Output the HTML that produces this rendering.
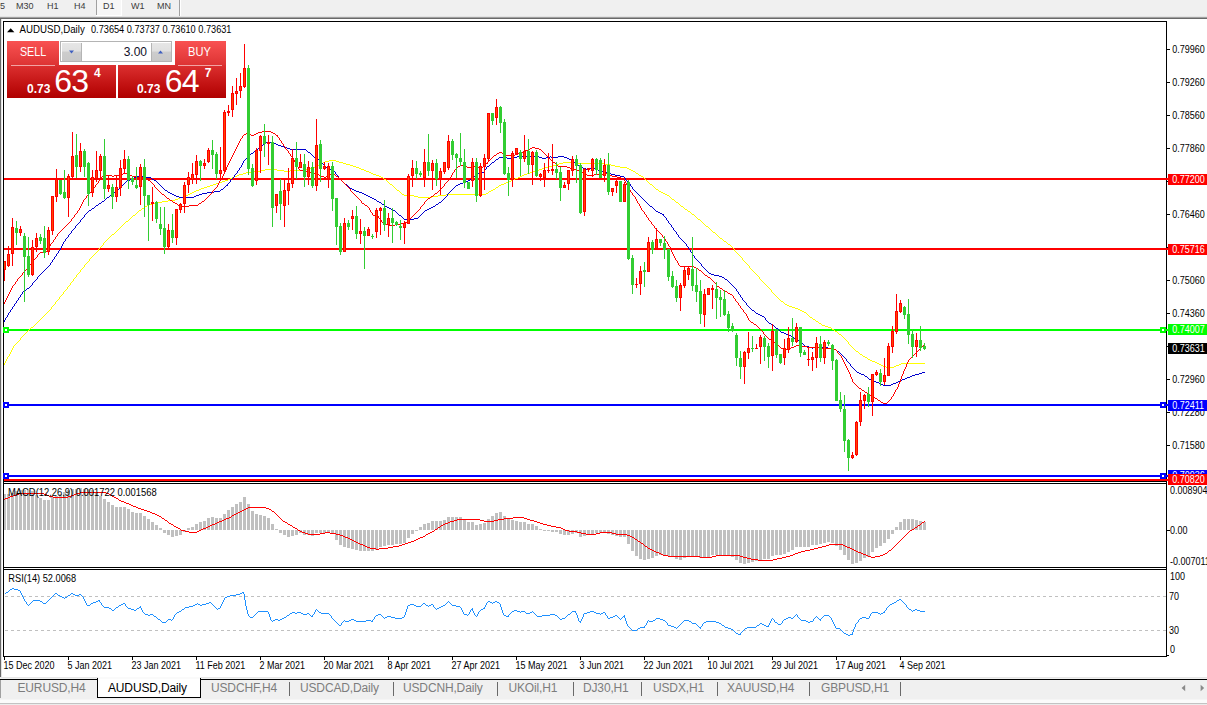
<!DOCTYPE html>
<html lang="en"><head><meta charset="utf-8"><title>AUDUSD,Daily</title>
<style>
html,body{margin:0;padding:0}
body{width:1207px;height:705px;position:relative;overflow:hidden;background:#f0f0f0;font-family:"Liberation Sans",sans-serif}
.abs{position:absolute}
.tb span{position:absolute;top:-0.5px;font-size:9.6px;line-height:12px;color:#3c3c3c;white-space:nowrap;transform:scaleX(0.94);transform-origin:0 0}
.tabs span{position:absolute;top:681.3px;font-size:12px;line-height:15px;color:#7d7d7d;white-space:nowrap;letter-spacing:-0.15px}
.tabs i{position:absolute;top:682px;width:1px;height:14px;background:#6a6a6a}
.btn{position:absolute;color:#fff;text-align:center}
</style></head>
<body>
<!-- toolbar -->
<div class="tb">
<div class="abs" style="left:97px;top:0;width:24px;height:15px;background:#f7f7f7"></div>
<div class="abs" style="left:121px;top:0;width:1px;height:16px;background:#fff"></div>
<div class="abs" style="left:96px;top:15px;width:26px;height:1px;background:#fff"></div>
<div class="abs" style="left:96px;top:0;width:1px;height:15px;background:#a0a0a0"></div>
<div class="abs" style="left:179px;top:0;width:1px;height:17px;background:#a0a0a0"></div>
<div class="abs" style="left:180px;top:0;width:1px;height:17px;background:#fff"></div>
<span style="left:0.3px">5</span><span style="left:16px">M30</span><span style="left:46.6px">H1</span><span style="left:74px">H4</span><span style="left:103px">D1</span><span style="left:130.5px">W1</span><span style="left:157px">MN</span>
</div>
<div class="abs" style="left:0;top:16px;width:1207px;height:1px;background:#e3e3e3"></div>
<div class="abs" style="left:0;top:17px;width:1207px;height:1px;background:#a0a0a0"></div>
<div class="abs" style="left:0;top:18px;width:1207px;height:1px;background:#696969"></div>
<!-- chart window -->
<div class="abs" style="left:0;top:19px;width:1207px;height:658px;background:#fff"></div>
<div class="abs" style="left:0;top:19px;width:1px;height:659px;background:#696969"></div>
<div class="abs" style="left:1px;top:19px;width:1px;height:659px;background:#e3e3e3"></div>
<svg width="1207" height="705" viewBox="0 0 1207 705" style="position:absolute;left:0;top:0"><g shape-rendering="crispEdges"><rect x="3" y="21" width="1164" height="1" fill="#000"/><rect x="3" y="21" width="1" height="636" fill="#000"/><rect x="1166" y="21" width="1" height="636" fill="#000"/><rect x="3" y="656" width="1164" height="1" fill="#000"/><rect x="3" y="481" width="1164" height="1" fill="#000"/><rect x="4" y="482" width="1162" height="1" fill="#fff"/><rect x="3" y="483" width="1164" height="1" fill="#000"/><rect x="3" y="567" width="1164" height="1" fill="#000"/><rect x="4" y="568" width="1162" height="1" fill="#fff"/><rect x="3" y="569" width="1164" height="1" fill="#000"/><rect x="1167" y="49" width="3" height="1" fill="#000"/><rect x="1167" y="82" width="3" height="1" fill="#000"/><rect x="1167" y="115" width="3" height="1" fill="#000"/><rect x="1167" y="148" width="3" height="1" fill="#000"/><rect x="1167" y="181" width="3" height="1" fill="#000"/><rect x="1167" y="214" width="3" height="1" fill="#000"/><rect x="1167" y="247" width="3" height="1" fill="#000"/><rect x="1167" y="280" width="3" height="1" fill="#000"/><rect x="1167" y="313" width="3" height="1" fill="#000"/><rect x="1167" y="346" width="3" height="1" fill="#000"/><rect x="1167" y="379" width="3" height="1" fill="#000"/><rect x="1167" y="412" width="3" height="1" fill="#000"/><rect x="1167" y="445" width="3" height="1" fill="#000"/><rect x="1167" y="530" width="3" height="1" fill="#000"/><rect x="1167" y="655" width="2" height="1" fill="#000"/><rect x="4" y="657" width="1" height="3" fill="#000"/><rect x="68" y="657" width="1" height="3" fill="#000"/><rect x="132" y="657" width="1" height="3" fill="#000"/><rect x="196" y="657" width="1" height="3" fill="#000"/><rect x="260" y="657" width="1" height="3" fill="#000"/><rect x="324" y="657" width="1" height="3" fill="#000"/><rect x="388" y="657" width="1" height="3" fill="#000"/><rect x="452" y="657" width="1" height="3" fill="#000"/><rect x="516" y="657" width="1" height="3" fill="#000"/><rect x="580" y="657" width="1" height="3" fill="#000"/><rect x="644" y="657" width="1" height="3" fill="#000"/><rect x="708" y="657" width="1" height="3" fill="#000"/><rect x="772" y="657" width="1" height="3" fill="#000"/><rect x="836" y="657" width="1" height="3" fill="#000"/><rect x="900" y="657" width="1" height="3" fill="#000"/></g>
<g shape-rendering="crispEdges"><rect x="4" y="178" width="1164" height="2" fill="#ff0000"/><rect x="4" y="248" width="1164" height="2" fill="#ff0000"/><rect x="4" y="329" width="1164" height="2" fill="#00ff00"/><rect x="4" y="404" width="1164" height="2" fill="#0000ff"/><rect x="4" y="475" width="1164" height="2" fill="#0000ff"/><rect x="4" y="479" width="1164" height="2" fill="#ff0000"/><rect x="3" y="327" width="6" height="6" fill="#00ff00"/><rect x="5" y="329" width="2" height="2" fill="#fff"/><rect x="1160" y="327" width="6" height="6" fill="#00ff00"/><rect x="1162" y="329" width="2" height="2" fill="#fff"/><rect x="3" y="402" width="6" height="6" fill="#0000ff"/><rect x="5" y="404" width="2" height="2" fill="#fff"/><rect x="1160" y="402" width="6" height="6" fill="#0000ff"/><rect x="1162" y="404" width="2" height="2" fill="#fff"/><rect x="3" y="473" width="6" height="6" fill="#0000ff"/><rect x="5" y="475" width="2" height="2" fill="#fff"/><rect x="1160" y="473" width="6" height="6" fill="#0000ff"/><rect x="1162" y="475" width="2" height="2" fill="#fff"/></g>
<path fill="#ffff00" shape-rendering="crispEdges" d="M4 363h1v2h-1zM5 361h1v2h-1zM6 359h1v2h-1zM7 357h1v2h-1zM8 356h1v1h-1zM9 354h1v2h-1zM10 352h1v2h-1zM11 350h1v2h-1zM12 348h1v2h-1zM13 346h1v2h-1zM14 345h1v1h-1zM15 344h1v1h-1zM16 343h1v1h-1zM17 342h1v1h-1zM18 341h1v1h-1zM19 340h1v1h-1zM20 338h1v2h-1zM21 337h1v1h-1zM22 336h1v1h-1zM23 335h1v1h-1zM24 334h1v1h-1zM25 333h1v1h-1zM26 332h1v1h-1zM27 331h1v1h-1zM28 330h1v1h-1zM29 329h1v1h-1zM30 328h1v1h-1zM31 327h1v1h-1zM32 327h1v1h-1zM33 326h1v1h-1zM34 325h1v1h-1zM35 324h1v1h-1zM36 323h1v1h-1zM37 322h1v1h-1zM38 321h1v1h-1zM39 320h1v1h-1zM40 319h1v1h-1zM41 318h1v1h-1zM42 317h1v1h-1zM43 316h1v1h-1zM44 315h1v1h-1zM45 314h1v1h-1zM46 313h1v1h-1zM47 312h1v1h-1zM48 311h1v1h-1zM49 310h1v1h-1zM50 309h1v1h-1zM51 307h1v2h-1zM52 306h1v1h-1zM53 305h1v1h-1zM54 304h1v1h-1zM55 302h1v2h-1zM56 301h1v1h-1zM57 300h1v1h-1zM58 299h1v1h-1zM59 297h1v2h-1zM60 296h1v1h-1zM61 295h1v1h-1zM62 294h1v1h-1zM63 292h1v2h-1zM64 291h1v1h-1zM65 290h1v1h-1zM66 289h1v1h-1zM67 287h1v2h-1zM68 286h1v1h-1zM69 285h1v1h-1zM70 283h1v2h-1zM71 282h1v1h-1zM72 281h1v1h-1zM73 279h1v2h-1zM74 278h1v1h-1zM75 277h1v1h-1zM76 275h1v2h-1zM77 274h1v1h-1zM78 273h1v1h-1zM79 272h1v1h-1zM80 270h1v2h-1zM81 269h1v1h-1zM82 268h1v1h-1zM83 267h1v1h-1zM84 265h1v2h-1zM85 264h1v1h-1zM86 263h1v1h-1zM87 262h1v1h-1zM88 261h1v1h-1zM89 259h1v2h-1zM90 258h1v1h-1zM91 257h1v1h-1zM92 256h1v1h-1zM93 255h1v1h-1zM94 254h1v1h-1zM95 253h1v1h-1zM96 252h1v1h-1zM97 251h1v1h-1zM98 249h1v2h-1zM99 248h1v1h-1zM100 247h1v1h-1zM101 246h1v1h-1zM102 245h1v1h-1zM103 243h1v2h-1zM104 242h1v1h-1zM105 241h1v1h-1zM106 240h1v1h-1zM107 239h1v1h-1zM108 238h1v1h-1zM109 237h1v1h-1zM110 236h1v1h-1zM111 235h1v1h-1zM112 234h1v1h-1zM113 234h1v1h-1zM114 233h1v1h-1zM115 232h1v1h-1zM116 231h1v1h-1zM117 230h1v1h-1zM118 229h1v1h-1zM119 228h1v1h-1zM120 227h1v1h-1zM121 226h1v1h-1zM122 225h1v1h-1zM123 224h1v1h-1zM124 223h1v1h-1zM125 222h1v1h-1zM126 221h1v1h-1zM127 221h1v1h-1zM128 220h1v1h-1zM129 219h1v1h-1zM130 218h1v1h-1zM131 217h1v1h-1zM132 216h1v1h-1zM133 215h1v1h-1zM134 215h1v1h-1zM135 214h1v1h-1zM136 213h1v1h-1zM137 212h1v1h-1zM138 211h1v1h-1zM139 210h1v1h-1zM140 210h1v1h-1zM141 209h1v1h-1zM142 208h1v1h-1zM143 208h1v1h-1zM144 207h1v1h-1zM145 206h1v1h-1zM146 206h1v1h-1zM147 205h1v1h-1zM148 205h1v1h-1zM149 204h1v1h-1zM150 204h1v1h-1zM151 204h1v1h-1zM152 203h1v1h-1zM153 203h1v1h-1zM154 203h1v1h-1zM155 203h1v1h-1zM156 203h1v1h-1zM157 202h1v1h-1zM158 202h1v1h-1zM159 202h1v1h-1zM160 202h1v1h-1zM161 202h1v1h-1zM162 201h1v1h-1zM163 201h1v1h-1zM164 201h1v1h-1zM165 201h1v1h-1zM166 201h1v1h-1zM167 201h1v1h-1zM168 200h1v1h-1zM169 200h1v1h-1zM170 200h1v1h-1zM171 200h1v1h-1zM172 200h1v1h-1zM173 200h1v1h-1zM174 200h1v1h-1zM175 199h1v1h-1zM176 199h1v1h-1zM177 199h1v1h-1zM178 198h1v1h-1zM179 198h1v1h-1zM180 197h1v1h-1zM181 197h1v1h-1zM182 197h1v1h-1zM183 196h1v1h-1zM184 196h1v1h-1zM185 195h1v1h-1zM186 195h1v1h-1zM187 195h1v1h-1zM188 194h1v1h-1zM189 194h1v1h-1zM190 193h1v1h-1zM191 193h1v1h-1zM192 192h1v1h-1zM193 192h1v1h-1zM194 191h1v1h-1zM195 191h1v1h-1zM196 190h1v1h-1zM197 190h1v1h-1zM198 190h1v1h-1zM199 189h1v1h-1zM200 189h1v1h-1zM201 188h1v1h-1zM202 188h1v1h-1zM203 188h1v1h-1zM204 187h1v1h-1zM205 187h1v1h-1zM206 187h1v1h-1zM207 186h1v1h-1zM208 186h1v1h-1zM209 186h1v1h-1zM210 185h1v1h-1zM211 185h1v1h-1zM212 185h1v1h-1zM213 184h1v1h-1zM214 184h1v1h-1zM215 184h1v1h-1zM216 183h1v1h-1zM217 183h1v1h-1zM218 183h1v1h-1zM219 182h1v1h-1zM220 182h1v1h-1zM221 182h1v1h-1zM222 181h1v1h-1zM223 181h1v1h-1zM224 181h1v1h-1zM225 180h1v1h-1zM226 180h1v1h-1zM227 180h1v1h-1zM228 179h1v1h-1zM229 179h1v1h-1zM230 178h1v1h-1zM231 178h1v1h-1zM232 177h1v1h-1zM233 177h1v1h-1zM234 176h1v1h-1zM235 176h1v1h-1zM236 176h1v1h-1zM237 175h1v1h-1zM238 175h1v1h-1zM239 174h1v1h-1zM240 174h1v1h-1zM241 174h1v1h-1zM242 174h1v1h-1zM243 173h1v1h-1zM244 173h1v1h-1zM245 173h1v1h-1zM246 172h1v1h-1zM247 172h1v1h-1zM248 172h1v1h-1zM249 172h1v1h-1zM250 172h1v1h-1zM251 172h1v1h-1zM252 172h1v1h-1zM253 171h1v1h-1zM254 171h1v1h-1zM255 171h1v1h-1zM256 171h1v1h-1zM257 171h1v1h-1zM258 171h1v1h-1zM259 171h1v1h-1zM260 170h1v1h-1zM261 170h1v1h-1zM262 170h1v1h-1zM263 170h1v1h-1zM264 170h1v1h-1zM265 169h1v1h-1zM266 169h1v1h-1zM267 169h1v1h-1zM268 169h1v1h-1zM269 169h1v1h-1zM270 169h1v1h-1zM271 169h1v1h-1zM272 169h1v1h-1zM273 169h1v1h-1zM274 169h1v1h-1zM275 169h1v1h-1zM276 169h1v1h-1zM277 170h1v1h-1zM278 170h1v1h-1zM279 170h1v1h-1zM280 170h1v1h-1zM281 170h1v1h-1zM282 170h1v1h-1zM283 170h1v1h-1zM284 171h1v1h-1zM285 171h1v1h-1zM286 171h1v1h-1zM287 171h1v1h-1zM288 171h1v1h-1zM289 171h1v1h-1zM290 170h1v1h-1zM291 170h1v1h-1zM292 170h1v1h-1zM293 170h1v1h-1zM294 170h1v1h-1zM295 170h1v1h-1zM296 170h1v1h-1zM297 170h1v1h-1zM298 170h1v1h-1zM299 170h1v1h-1zM300 170h1v1h-1zM301 170h1v1h-1zM302 170h1v1h-1zM303 169h1v1h-1zM304 169h1v1h-1zM305 169h1v1h-1zM306 169h1v1h-1zM307 169h1v1h-1zM308 168h1v1h-1zM309 168h1v1h-1zM310 168h1v1h-1zM311 168h1v1h-1zM312 168h1v1h-1zM313 167h1v1h-1zM314 167h1v1h-1zM315 166h1v1h-1zM316 166h1v1h-1zM317 165h1v1h-1zM318 165h1v1h-1zM319 164h1v1h-1zM320 164h1v1h-1zM321 163h1v1h-1zM322 163h1v1h-1zM323 162h1v1h-1zM324 162h1v1h-1zM325 161h1v1h-1zM326 161h1v1h-1zM327 161h1v1h-1zM328 161h1v1h-1zM329 160h1v1h-1zM330 160h1v1h-1zM331 160h1v1h-1zM332 160h1v1h-1zM333 160h1v1h-1zM334 160h1v1h-1zM335 160h1v1h-1zM336 161h1v1h-1zM337 161h1v1h-1zM338 161h1v1h-1zM339 162h1v1h-1zM340 162h1v1h-1zM341 162h1v1h-1zM342 162h1v1h-1zM343 163h1v1h-1zM344 163h1v1h-1zM345 163h1v1h-1zM346 164h1v1h-1zM347 164h1v1h-1zM348 164h1v1h-1zM349 164h1v1h-1zM350 165h1v1h-1zM351 165h1v1h-1zM352 165h1v1h-1zM353 166h1v1h-1zM354 166h1v1h-1zM355 166h1v1h-1zM356 167h1v1h-1zM357 167h1v1h-1zM358 167h1v1h-1zM359 168h1v1h-1zM360 168h1v1h-1zM361 169h1v1h-1zM362 169h1v1h-1zM363 169h1v1h-1zM364 170h1v1h-1zM365 170h1v1h-1zM366 171h1v1h-1zM367 171h1v1h-1zM368 171h1v1h-1zM369 172h1v1h-1zM370 172h1v1h-1zM371 173h1v1h-1zM372 173h1v1h-1zM373 174h1v1h-1zM374 174h1v1h-1zM375 174h1v1h-1zM376 175h1v1h-1zM377 175h1v1h-1zM378 175h1v1h-1zM379 176h1v1h-1zM380 176h1v1h-1zM381 177h1v1h-1zM382 177h1v1h-1zM383 178h1v1h-1zM384 179h1v1h-1zM385 179h1v1h-1zM386 180h1v1h-1zM387 181h1v1h-1zM388 182h1v1h-1zM389 183h1v1h-1zM390 184h1v1h-1zM391 184h1v1h-1zM392 185h1v1h-1zM393 186h1v1h-1zM394 187h1v1h-1zM395 188h1v1h-1zM396 189h1v1h-1zM397 190h1v1h-1zM398 190h1v1h-1zM399 191h1v1h-1zM400 192h1v1h-1zM401 193h1v1h-1zM402 194h1v1h-1zM403 194h1v1h-1zM404 195h1v1h-1zM405 195h1v1h-1zM406 195h1v1h-1zM407 195h1v1h-1zM408 195h1v1h-1zM409 195h1v1h-1zM410 195h1v1h-1zM411 195h1v1h-1zM412 195h1v1h-1zM413 195h1v1h-1zM414 196h1v1h-1zM415 196h1v1h-1zM416 196h1v1h-1zM417 196h1v1h-1zM418 197h1v1h-1zM419 197h1v1h-1zM420 197h1v1h-1zM421 197h1v1h-1zM422 197h1v1h-1zM423 197h1v1h-1zM424 197h1v1h-1zM425 197h1v1h-1zM426 197h1v1h-1zM427 197h1v1h-1zM428 197h1v1h-1zM429 197h1v1h-1zM430 197h1v1h-1zM431 197h1v1h-1zM432 196h1v1h-1zM433 196h1v1h-1zM434 196h1v1h-1zM435 196h1v1h-1zM436 196h1v1h-1zM437 196h1v1h-1zM438 195h1v1h-1zM439 195h1v1h-1zM440 195h1v1h-1zM441 195h1v1h-1zM442 195h1v1h-1zM443 195h1v1h-1zM444 195h1v1h-1zM445 195h1v1h-1zM446 194h1v1h-1zM447 194h1v1h-1zM448 194h1v1h-1zM449 194h1v1h-1zM450 194h1v1h-1zM451 194h1v1h-1zM452 194h1v1h-1zM453 194h1v1h-1zM454 194h1v1h-1zM455 194h1v1h-1zM456 194h1v1h-1zM457 194h1v1h-1zM458 194h1v1h-1zM459 194h1v1h-1zM460 194h1v1h-1zM461 194h1v1h-1zM462 194h1v1h-1zM463 194h1v1h-1zM464 194h1v1h-1zM465 194h1v1h-1zM466 194h1v1h-1zM467 194h1v1h-1zM468 194h1v1h-1zM469 194h1v1h-1zM470 194h1v1h-1zM471 194h1v1h-1zM472 194h1v1h-1zM473 194h1v1h-1zM474 194h1v1h-1zM475 194h1v1h-1zM476 194h1v1h-1zM477 194h1v1h-1zM478 194h1v1h-1zM479 194h1v1h-1zM480 194h1v1h-1zM481 194h1v1h-1zM482 194h1v1h-1zM483 194h1v1h-1zM484 194h1v1h-1zM485 194h1v1h-1zM486 193h1v1h-1zM487 193h1v1h-1zM488 192h1v1h-1zM489 191h1v1h-1zM490 191h1v1h-1zM491 190h1v1h-1zM492 190h1v1h-1zM493 189h1v1h-1zM494 189h1v1h-1zM495 188h1v1h-1zM496 187h1v1h-1zM497 187h1v1h-1zM498 186h1v1h-1zM499 185h1v1h-1zM500 185h1v1h-1zM501 184h1v1h-1zM502 184h1v1h-1zM503 184h1v1h-1zM504 183h1v1h-1zM505 183h1v1h-1zM506 182h1v1h-1zM507 182h1v1h-1zM508 181h1v1h-1zM509 181h1v1h-1zM510 181h1v1h-1zM511 180h1v1h-1zM512 180h1v1h-1zM513 179h1v1h-1zM514 179h1v1h-1zM515 178h1v1h-1zM516 178h1v1h-1zM517 178h1v1h-1zM518 177h1v1h-1zM519 177h1v1h-1zM520 176h1v1h-1zM521 176h1v1h-1zM522 175h1v1h-1zM523 175h1v1h-1zM524 174h1v1h-1zM525 174h1v1h-1zM526 174h1v1h-1zM527 173h1v1h-1zM528 173h1v1h-1zM529 173h1v1h-1zM530 172h1v1h-1zM531 172h1v1h-1zM532 172h1v1h-1zM533 171h1v1h-1zM534 171h1v1h-1zM535 171h1v1h-1zM536 170h1v1h-1zM537 170h1v1h-1zM538 170h1v1h-1zM539 169h1v1h-1zM540 169h1v1h-1zM541 169h1v1h-1zM542 168h1v1h-1zM543 168h1v1h-1zM544 168h1v1h-1zM545 167h1v1h-1zM546 167h1v1h-1zM547 167h1v1h-1zM548 167h1v1h-1zM549 166h1v1h-1zM550 166h1v1h-1zM551 166h1v1h-1zM552 165h1v1h-1zM553 165h1v1h-1zM554 165h1v1h-1zM555 165h1v1h-1zM556 164h1v1h-1zM557 164h1v1h-1zM558 164h1v1h-1zM559 163h1v1h-1zM560 163h1v1h-1zM561 163h1v1h-1zM562 163h1v1h-1zM563 162h1v1h-1zM564 162h1v1h-1zM565 162h1v1h-1zM566 162h1v1h-1zM567 162h1v1h-1zM568 162h1v1h-1zM569 162h1v1h-1zM570 162h1v1h-1zM571 162h1v1h-1zM572 162h1v1h-1zM573 162h1v1h-1zM574 162h1v1h-1zM575 162h1v1h-1zM576 163h1v1h-1zM577 163h1v1h-1zM578 163h1v1h-1zM579 163h1v1h-1zM580 163h1v1h-1zM581 163h1v1h-1zM582 163h1v1h-1zM583 163h1v1h-1zM584 163h1v1h-1zM585 163h1v1h-1zM586 163h1v1h-1zM587 163h1v1h-1zM588 163h1v1h-1zM589 163h1v1h-1zM590 163h1v1h-1zM591 163h1v1h-1zM592 163h1v1h-1zM593 163h1v1h-1zM594 163h1v1h-1zM595 163h1v1h-1zM596 163h1v1h-1zM597 163h1v1h-1zM598 163h1v1h-1zM599 163h1v1h-1zM600 163h1v1h-1zM601 163h1v1h-1zM602 163h1v1h-1zM603 163h1v1h-1zM604 163h1v1h-1zM605 164h1v1h-1zM606 164h1v1h-1zM607 164h1v1h-1zM608 164h1v1h-1zM609 164h1v1h-1zM610 164h1v1h-1zM611 165h1v1h-1zM612 165h1v1h-1zM613 165h1v1h-1zM614 165h1v1h-1zM615 166h1v1h-1zM616 166h1v1h-1zM617 166h1v1h-1zM618 166h1v1h-1zM619 166h1v1h-1zM620 167h1v1h-1zM621 167h1v1h-1zM622 167h1v1h-1zM623 167h1v1h-1zM624 167h1v1h-1zM625 167h1v1h-1zM626 167h1v1h-1zM627 168h1v1h-1zM628 168h1v1h-1zM629 169h1v1h-1zM630 169h1v1h-1zM631 170h1v1h-1zM632 170h1v1h-1zM633 171h1v1h-1zM634 171h1v1h-1zM635 172h1v1h-1zM636 173h1v1h-1zM637 173h1v1h-1zM638 174h1v1h-1zM639 175h1v1h-1zM640 175h1v1h-1zM641 176h1v1h-1zM642 176h1v1h-1zM643 177h1v1h-1zM644 178h1v1h-1zM645 179h1v1h-1zM646 180h1v1h-1zM647 181h1v1h-1zM648 182h1v1h-1zM649 183h1v1h-1zM650 184h1v1h-1zM651 184h1v1h-1zM652 185h1v1h-1zM653 186h1v1h-1zM654 187h1v1h-1zM655 188h1v1h-1zM656 189h1v1h-1zM657 189h1v1h-1zM658 190h1v1h-1zM659 191h1v1h-1zM660 191h1v1h-1zM661 192h1v1h-1zM662 192h1v1h-1zM663 193h1v1h-1zM664 193h1v1h-1zM665 194h1v1h-1zM666 194h1v1h-1zM667 195h1v1h-1zM668 195h1v1h-1zM669 196h1v1h-1zM670 197h1v1h-1zM671 198h1v1h-1zM672 199h1v1h-1zM673 199h1v1h-1zM674 200h1v1h-1zM675 201h1v1h-1zM676 202h1v1h-1zM677 202h1v1h-1zM678 203h1v1h-1zM679 204h1v1h-1zM680 205h1v1h-1zM681 206h1v1h-1zM682 206h1v1h-1zM683 207h1v1h-1zM684 208h1v1h-1zM685 209h1v1h-1zM686 209h1v1h-1zM687 210h1v1h-1zM688 211h1v1h-1zM689 211h1v1h-1zM690 212h1v1h-1zM691 213h1v1h-1zM692 214h1v1h-1zM693 214h1v1h-1zM694 215h1v1h-1zM695 216h1v1h-1zM696 217h1v1h-1zM697 218h1v1h-1zM698 219h1v1h-1zM699 219h1v1h-1zM700 220h1v1h-1zM701 221h1v1h-1zM702 222h1v1h-1zM703 223h1v1h-1zM704 224h1v1h-1zM705 225h1v1h-1zM706 226h1v1h-1zM707 226h1v1h-1zM708 227h1v1h-1zM709 228h1v1h-1zM710 229h1v1h-1zM711 230h1v1h-1zM712 231h1v1h-1zM713 232h1v1h-1zM714 232h1v1h-1zM715 233h1v1h-1zM716 234h1v1h-1zM717 235h1v1h-1zM718 236h1v1h-1zM719 237h1v1h-1zM720 238h1v1h-1zM721 238h1v1h-1zM722 239h1v1h-1zM723 240h1v1h-1zM724 241h1v1h-1zM725 241h1v1h-1zM726 242h1v1h-1zM727 243h1v1h-1zM728 244h1v1h-1zM729 244h1v1h-1zM730 245h1v1h-1zM731 246h1v1h-1zM732 247h1v1h-1zM733 248h1v1h-1zM734 249h1v2h-1zM735 251h1v1h-1zM736 252h1v1h-1zM737 253h1v1h-1zM738 254h1v1h-1zM739 255h1v1h-1zM740 256h1v1h-1zM741 257h1v1h-1zM742 258h1v2h-1zM743 260h1v1h-1zM744 261h1v1h-1zM745 262h1v1h-1zM746 263h1v1h-1zM747 264h1v1h-1zM748 265h1v1h-1zM749 266h1v2h-1zM750 268h1v1h-1zM751 269h1v1h-1zM752 270h1v1h-1zM753 271h1v1h-1zM754 272h1v1h-1zM755 273h1v1h-1zM756 274h1v1h-1zM757 275h1v1h-1zM758 276h1v1h-1zM759 277h1v2h-1zM760 279h1v1h-1zM761 280h1v1h-1zM762 281h1v1h-1zM763 282h1v1h-1zM764 283h1v1h-1zM765 284h1v1h-1zM766 285h1v1h-1zM767 286h1v1h-1zM768 287h1v1h-1zM769 288h1v1h-1zM770 289h1v1h-1zM771 290h1v2h-1zM772 292h1v1h-1zM773 293h1v1h-1zM774 294h1v1h-1zM775 295h1v1h-1zM776 296h1v1h-1zM777 297h1v1h-1zM778 298h1v1h-1zM779 299h1v1h-1zM780 300h1v1h-1zM781 301h1v1h-1zM782 301h1v1h-1zM783 302h1v1h-1zM784 303h1v1h-1zM785 304h1v1h-1zM786 304h1v1h-1zM787 305h1v1h-1zM788 305h1v1h-1zM789 306h1v1h-1zM790 306h1v1h-1zM791 306h1v1h-1zM792 307h1v1h-1zM793 307h1v1h-1zM794 307h1v1h-1zM795 308h1v1h-1zM796 308h1v1h-1zM797 308h1v1h-1zM798 309h1v1h-1zM799 309h1v1h-1zM800 310h1v1h-1zM801 310h1v1h-1zM802 311h1v1h-1zM803 311h1v1h-1zM804 312h1v1h-1zM805 312h1v1h-1zM806 313h1v1h-1zM807 314h1v1h-1zM808 315h1v1h-1zM809 316h1v1h-1zM810 317h1v1h-1zM811 317h1v1h-1zM812 318h1v1h-1zM813 319h1v1h-1zM814 319h1v1h-1zM815 320h1v1h-1zM816 321h1v1h-1zM817 321h1v1h-1zM818 322h1v1h-1zM819 323h1v1h-1zM820 323h1v1h-1zM821 324h1v1h-1zM822 325h1v1h-1zM823 325h1v1h-1zM824 325h1v1h-1zM825 326h1v1h-1zM826 326h1v1h-1zM827 326h1v1h-1zM828 327h1v1h-1zM829 327h1v1h-1zM830 327h1v1h-1zM831 328h1v1h-1zM832 329h1v1h-1zM833 329h1v1h-1zM834 330h1v1h-1zM835 331h1v1h-1zM836 331h1v1h-1zM837 332h1v1h-1zM838 333h1v1h-1zM839 334h1v1h-1zM840 334h1v1h-1zM841 335h1v1h-1zM842 336h1v1h-1zM843 337h1v1h-1zM844 338h1v1h-1zM845 339h1v1h-1zM846 340h1v1h-1zM847 341h1v1h-1zM848 342h1v2h-1zM849 344h1v1h-1zM850 345h1v1h-1zM851 346h1v1h-1zM852 347h1v1h-1zM853 348h1v1h-1zM854 349h1v1h-1zM855 350h1v1h-1zM856 351h1v1h-1zM857 351h1v1h-1zM858 352h1v1h-1zM859 353h1v1h-1zM860 354h1v1h-1zM861 354h1v1h-1zM862 355h1v1h-1zM863 356h1v1h-1zM864 356h1v1h-1zM865 357h1v1h-1zM866 357h1v1h-1zM867 358h1v1h-1zM868 359h1v1h-1zM869 359h1v1h-1zM870 360h1v1h-1zM871 360h1v1h-1zM872 361h1v1h-1zM873 361h1v1h-1zM874 361h1v1h-1zM875 362h1v1h-1zM876 362h1v1h-1zM877 363h1v1h-1zM878 363h1v1h-1zM879 364h1v1h-1zM880 364h1v1h-1zM881 365h1v1h-1zM882 365h1v1h-1zM883 366h1v1h-1zM884 366h1v1h-1zM885 366h1v1h-1zM886 367h1v1h-1zM887 367h1v1h-1zM888 367h1v1h-1zM889 367h1v1h-1zM890 367h1v1h-1zM891 367h1v1h-1zM892 367h1v1h-1zM893 367h1v1h-1zM894 366h1v1h-1zM895 366h1v1h-1zM896 365h1v1h-1zM897 365h1v1h-1zM898 365h1v1h-1zM899 364h1v1h-1zM900 364h1v1h-1zM901 363h1v1h-1zM902 363h1v1h-1zM903 363h1v1h-1zM904 363h1v1h-1zM905 363h1v1h-1zM906 363h1v1h-1zM907 363h1v1h-1zM908 363h1v1h-1zM909 363h1v1h-1zM910 363h1v1h-1zM911 363h1v1h-1zM912 363h1v1h-1zM913 363h1v1h-1zM914 363h1v1h-1zM915 363h1v1h-1zM916 363h1v1h-1zM917 363h1v1h-1zM918 363h1v1h-1zM919 363h1v1h-1zM920 363h1v1h-1zM921 363h1v1h-1zM922 363h1v1h-1zM923 363h1v1h-1zM924 363h1v1h-1z"/>
<path fill="#0000cd" shape-rendering="crispEdges" d="M4 320h1v2h-1zM5 318h1v2h-1zM6 317h1v1h-1zM7 315h1v2h-1zM8 313h1v2h-1zM9 312h1v1h-1zM10 310h1v2h-1zM11 309h1v1h-1zM12 307h1v2h-1zM13 306h1v1h-1zM14 304h1v2h-1zM15 303h1v1h-1zM16 301h1v2h-1zM17 300h1v1h-1zM18 298h1v2h-1zM19 297h1v1h-1zM20 295h1v2h-1zM21 294h1v1h-1zM22 292h1v2h-1zM23 291h1v1h-1zM24 290h1v1h-1zM25 290h1v1h-1zM26 289h1v1h-1zM27 288h1v1h-1zM28 288h1v1h-1zM29 287h1v1h-1zM30 286h1v1h-1zM31 285h1v1h-1zM32 283h1v2h-1zM33 282h1v1h-1zM34 281h1v1h-1zM35 280h1v1h-1zM36 279h1v1h-1zM37 277h1v2h-1zM38 276h1v1h-1zM39 275h1v1h-1zM40 274h1v1h-1zM41 273h1v1h-1zM42 272h1v1h-1zM43 271h1v1h-1zM44 270h1v1h-1zM45 269h1v1h-1zM46 268h1v1h-1zM47 267h1v1h-1zM48 266h1v1h-1zM49 265h1v1h-1zM50 263h1v2h-1zM51 262h1v1h-1zM52 260h1v2h-1zM53 259h1v1h-1zM54 257h1v2h-1zM55 256h1v1h-1zM56 254h1v2h-1zM57 253h1v1h-1zM58 251h1v2h-1zM59 250h1v1h-1zM60 248h1v2h-1zM61 246h1v2h-1zM62 244h1v2h-1zM63 242h1v2h-1zM64 241h1v1h-1zM65 239h1v2h-1zM66 238h1v1h-1zM67 237h1v1h-1zM68 235h1v2h-1zM69 234h1v1h-1zM70 233h1v1h-1zM71 231h1v2h-1zM72 230h1v1h-1zM73 229h1v1h-1zM74 228h1v1h-1zM75 226h1v2h-1zM76 225h1v1h-1zM77 224h1v1h-1zM78 223h1v1h-1zM79 222h1v1h-1zM80 220h1v2h-1zM81 219h1v1h-1zM82 218h1v1h-1zM83 217h1v1h-1zM84 215h1v2h-1zM85 214h1v1h-1zM86 213h1v1h-1zM87 212h1v1h-1zM88 211h1v1h-1zM89 210h1v1h-1zM90 210h1v1h-1zM91 209h1v1h-1zM92 208h1v1h-1zM93 208h1v1h-1zM94 207h1v1h-1zM95 206h1v1h-1zM96 205h1v1h-1zM97 205h1v1h-1zM98 204h1v1h-1zM99 203h1v1h-1zM100 203h1v1h-1zM101 202h1v1h-1zM102 201h1v1h-1zM103 201h1v1h-1zM104 200h1v1h-1zM105 199h1v1h-1zM106 198h1v1h-1zM107 197h1v1h-1zM108 197h1v1h-1zM109 196h1v1h-1zM110 195h1v1h-1zM111 194h1v1h-1zM112 193h1v1h-1zM113 193h1v1h-1zM114 192h1v1h-1zM115 191h1v1h-1zM116 190h1v1h-1zM117 189h1v1h-1zM118 189h1v1h-1zM119 188h1v1h-1zM120 187h1v1h-1zM121 186h1v1h-1zM122 185h1v1h-1zM123 184h1v1h-1zM124 183h1v1h-1zM125 182h1v1h-1zM126 181h1v1h-1zM127 180h1v1h-1zM128 180h1v1h-1zM129 180h1v1h-1zM130 179h1v1h-1zM131 179h1v1h-1zM132 178h1v1h-1zM133 178h1v1h-1zM134 177h1v1h-1zM135 177h1v1h-1zM136 177h1v1h-1zM137 176h1v1h-1zM138 176h1v1h-1zM139 176h1v1h-1zM140 176h1v1h-1zM141 176h1v1h-1zM142 176h1v1h-1zM143 176h1v1h-1zM144 176h1v1h-1zM145 176h1v1h-1zM146 177h1v1h-1zM147 177h1v1h-1zM148 177h1v1h-1zM149 177h1v1h-1zM150 177h1v1h-1zM151 178h1v1h-1zM152 179h1v1h-1zM153 179h1v1h-1zM154 180h1v1h-1zM155 180h1v1h-1zM156 181h1v1h-1zM157 182h1v1h-1zM158 183h1v1h-1zM159 184h1v1h-1zM160 185h1v1h-1zM161 186h1v1h-1zM162 187h1v1h-1zM163 188h1v1h-1zM164 189h1v1h-1zM165 190h1v1h-1zM166 190h1v1h-1zM167 191h1v1h-1zM168 192h1v1h-1zM169 192h1v1h-1zM170 193h1v1h-1zM171 193h1v1h-1zM172 194h1v1h-1zM173 194h1v1h-1zM174 195h1v1h-1zM175 195h1v1h-1zM176 196h1v1h-1zM177 196h1v1h-1zM178 196h1v1h-1zM179 197h1v1h-1zM180 197h1v1h-1zM181 197h1v1h-1zM182 197h1v1h-1zM183 197h1v1h-1zM184 197h1v1h-1zM185 197h1v1h-1zM186 197h1v1h-1zM187 197h1v1h-1zM188 197h1v1h-1zM189 197h1v1h-1zM190 197h1v1h-1zM191 197h1v1h-1zM192 197h1v1h-1zM193 197h1v1h-1zM194 196h1v1h-1zM195 196h1v1h-1zM196 195h1v1h-1zM197 195h1v1h-1zM198 195h1v1h-1zM199 194h1v1h-1zM200 194h1v1h-1zM201 194h1v1h-1zM202 193h1v1h-1zM203 193h1v1h-1zM204 193h1v1h-1zM205 193h1v1h-1zM206 193h1v1h-1zM207 192h1v1h-1zM208 192h1v1h-1zM209 192h1v1h-1zM210 192h1v1h-1zM211 192h1v1h-1zM212 192h1v1h-1zM213 192h1v1h-1zM214 191h1v1h-1zM215 191h1v1h-1zM216 191h1v1h-1zM217 191h1v1h-1zM218 191h1v1h-1zM219 191h1v1h-1zM220 190h1v1h-1zM221 189h1v1h-1zM222 189h1v1h-1zM223 188h1v1h-1zM224 187h1v1h-1zM225 186h1v1h-1zM226 185h1v1h-1zM227 184h1v2h-1zM228 183h1v1h-1zM229 182h1v1h-1zM230 180h1v2h-1zM231 179h1v1h-1zM232 178h1v1h-1zM233 177h1v1h-1zM234 175h1v2h-1zM235 174h1v1h-1zM236 173h1v1h-1zM237 171h1v2h-1zM238 170h1v1h-1zM239 168h1v2h-1zM240 167h1v1h-1zM241 165h1v2h-1zM242 163h1v2h-1zM243 161h1v2h-1zM244 160h1v1h-1zM245 159h1v1h-1zM246 158h1v1h-1zM247 157h1v1h-1zM248 156h1v1h-1zM249 155h1v1h-1zM250 154h1v1h-1zM251 153h1v1h-1zM252 153h1v1h-1zM253 152h1v1h-1zM254 151h1v1h-1zM255 151h1v1h-1zM256 150h1v1h-1zM257 149h1v1h-1zM258 148h1v1h-1zM259 147h1v1h-1zM260 146h1v1h-1zM261 145h1v1h-1zM262 145h1v1h-1zM263 144h1v1h-1zM264 143h1v1h-1zM265 143h1v1h-1zM266 142h1v1h-1zM267 142h1v1h-1zM268 142h1v1h-1zM269 142h1v1h-1zM270 142h1v1h-1zM271 143h1v1h-1zM272 143h1v1h-1zM273 143h1v1h-1zM274 143h1v1h-1zM275 143h1v1h-1zM276 144h1v1h-1zM277 144h1v1h-1zM278 145h1v1h-1zM279 145h1v1h-1zM280 145h1v1h-1zM281 146h1v1h-1zM282 146h1v1h-1zM283 146h1v1h-1zM284 147h1v1h-1zM285 147h1v1h-1zM286 147h1v1h-1zM287 148h1v1h-1zM288 148h1v1h-1zM289 148h1v1h-1zM290 149h1v1h-1zM291 149h1v1h-1zM292 149h1v1h-1zM293 149h1v1h-1zM294 149h1v1h-1zM295 149h1v1h-1zM296 149h1v1h-1zM297 149h1v1h-1zM298 149h1v1h-1zM299 149h1v1h-1zM300 149h1v1h-1zM301 149h1v1h-1zM302 149h1v1h-1zM303 149h1v1h-1zM304 149h1v1h-1zM305 149h1v1h-1zM306 150h1v1h-1zM307 151h1v1h-1zM308 152h1v1h-1zM309 152h1v1h-1zM310 153h1v1h-1zM311 154h1v1h-1zM312 155h1v1h-1zM313 156h1v1h-1zM314 157h1v1h-1zM315 157h1v1h-1zM316 158h1v1h-1zM317 159h1v1h-1zM318 159h1v1h-1zM319 160h1v1h-1zM320 161h1v1h-1zM321 162h1v1h-1zM322 163h1v1h-1zM323 164h1v1h-1zM324 165h1v1h-1zM325 166h1v1h-1zM326 167h1v1h-1zM327 167h1v1h-1zM328 168h1v1h-1zM329 169h1v1h-1zM330 169h1v1h-1zM331 170h1v1h-1zM332 170h1v1h-1zM333 171h1v1h-1zM334 171h1v1h-1zM335 172h1v2h-1zM336 174h1v1h-1zM337 175h1v1h-1zM338 176h1v2h-1zM339 178h1v1h-1zM340 179h1v1h-1zM341 180h1v1h-1zM342 181h1v1h-1zM343 182h1v1h-1zM344 183h1v1h-1zM345 184h1v1h-1zM346 184h1v1h-1zM347 185h1v1h-1zM348 186h1v1h-1zM349 187h1v1h-1zM350 188h1v1h-1zM351 188h1v1h-1zM352 189h1v1h-1zM353 189h1v1h-1zM354 190h1v1h-1zM355 190h1v1h-1zM356 191h1v1h-1zM357 191h1v1h-1zM358 191h1v1h-1zM359 192h1v1h-1zM360 192h1v1h-1zM361 192h1v1h-1zM362 193h1v1h-1zM363 193h1v1h-1zM364 194h1v1h-1zM365 194h1v1h-1zM366 195h1v1h-1zM367 195h1v1h-1zM368 196h1v1h-1zM369 196h1v1h-1zM370 197h1v1h-1zM371 197h1v1h-1zM372 198h1v1h-1zM373 198h1v1h-1zM374 199h1v1h-1zM375 199h1v1h-1zM376 200h1v1h-1zM377 201h1v1h-1zM378 201h1v1h-1zM379 202h1v1h-1zM380 202h1v1h-1zM381 203h1v1h-1zM382 204h1v1h-1zM383 204h1v1h-1zM384 205h1v1h-1zM385 206h1v1h-1zM386 206h1v1h-1zM387 207h1v1h-1zM388 207h1v1h-1zM389 208h1v1h-1zM390 208h1v1h-1zM391 209h1v1h-1zM392 209h1v1h-1zM393 210h1v1h-1zM394 210h1v1h-1zM395 211h1v1h-1zM396 212h1v1h-1zM397 213h1v1h-1zM398 214h1v1h-1zM399 215h1v1h-1zM400 215h1v1h-1zM401 216h1v1h-1zM402 217h1v1h-1zM403 218h1v1h-1zM404 219h1v1h-1zM405 219h1v1h-1zM406 219h1v1h-1zM407 219h1v1h-1zM408 219h1v1h-1zM409 219h1v1h-1zM410 219h1v1h-1zM411 219h1v1h-1zM412 219h1v1h-1zM413 219h1v1h-1zM414 218h1v1h-1zM415 218h1v1h-1zM416 218h1v1h-1zM417 218h1v1h-1zM418 217h1v1h-1zM419 216h1v1h-1zM420 215h1v1h-1zM421 214h1v1h-1zM422 213h1v1h-1zM423 212h1v1h-1zM424 211h1v1h-1zM425 210h1v1h-1zM426 210h1v1h-1zM427 209h1v1h-1zM428 209h1v1h-1zM429 208h1v1h-1zM430 208h1v1h-1zM431 207h1v1h-1zM432 207h1v1h-1zM433 206h1v1h-1zM434 206h1v1h-1zM435 205h1v1h-1zM436 204h1v1h-1zM437 204h1v1h-1zM438 203h1v1h-1zM439 202h1v1h-1zM440 202h1v1h-1zM441 201h1v1h-1zM442 200h1v1h-1zM443 199h1v1h-1zM444 198h1v1h-1zM445 197h1v1h-1zM446 196h1v1h-1zM447 194h1v2h-1zM448 193h1v1h-1zM449 192h1v1h-1zM450 191h1v1h-1zM451 190h1v1h-1zM452 189h1v1h-1zM453 188h1v1h-1zM454 187h1v1h-1zM455 186h1v1h-1zM456 185h1v1h-1zM457 185h1v1h-1zM458 184h1v1h-1zM459 184h1v1h-1zM460 183h1v1h-1zM461 183h1v1h-1zM462 183h1v1h-1zM463 182h1v1h-1zM464 182h1v1h-1zM465 181h1v1h-1zM466 181h1v1h-1zM467 181h1v1h-1zM468 180h1v1h-1zM469 180h1v1h-1zM470 179h1v1h-1zM471 178h1v1h-1zM472 177h1v1h-1zM473 177h1v1h-1zM474 176h1v1h-1zM475 175h1v1h-1zM476 175h1v1h-1zM477 174h1v1h-1zM478 173h1v1h-1zM479 173h1v1h-1zM480 172h1v1h-1zM481 172h1v1h-1zM482 172h1v1h-1zM483 172h1v1h-1zM484 170h1v2h-1zM485 169h1v1h-1zM486 167h1v2h-1zM487 166h1v1h-1zM488 166h1v1h-1zM489 165h1v1h-1zM490 164h1v1h-1zM491 163h1v1h-1zM492 162h1v1h-1zM493 162h1v1h-1zM494 161h1v1h-1zM495 160h1v1h-1zM496 159h1v1h-1zM497 159h1v1h-1zM498 158h1v1h-1zM499 157h1v1h-1zM500 157h1v1h-1zM501 157h1v1h-1zM502 157h1v1h-1zM503 156h1v1h-1zM504 156h1v1h-1zM505 157h1v1h-1zM506 157h1v1h-1zM507 158h1v1h-1zM508 158h1v1h-1zM509 158h1v1h-1zM510 158h1v1h-1zM511 158h1v1h-1zM512 157h1v1h-1zM513 157h1v1h-1zM514 157h1v1h-1zM515 157h1v1h-1zM516 157h1v1h-1zM517 156h1v1h-1zM518 156h1v1h-1zM519 156h1v1h-1zM520 156h1v1h-1zM521 156h1v1h-1zM522 156h1v1h-1zM523 156h1v1h-1zM524 156h1v1h-1zM525 156h1v1h-1zM526 156h1v1h-1zM527 156h1v1h-1zM528 156h1v1h-1zM529 156h1v1h-1zM530 156h1v1h-1zM531 156h1v1h-1zM532 156h1v1h-1zM533 156h1v1h-1zM534 156h1v1h-1zM535 156h1v1h-1zM536 156h1v1h-1zM537 156h1v1h-1zM538 156h1v1h-1zM539 157h1v1h-1zM540 157h1v1h-1zM541 157h1v1h-1zM542 158h1v1h-1zM543 158h1v1h-1zM544 158h1v1h-1zM545 158h1v1h-1zM546 157h1v1h-1zM547 157h1v1h-1zM548 157h1v1h-1zM549 157h1v1h-1zM550 156h1v1h-1zM551 157h1v1h-1zM552 157h1v1h-1zM553 157h1v1h-1zM554 157h1v1h-1zM555 157h1v1h-1zM556 157h1v1h-1zM557 157h1v1h-1zM558 156h1v1h-1zM559 156h1v1h-1zM560 156h1v1h-1zM561 156h1v1h-1zM562 156h1v1h-1zM563 156h1v1h-1zM564 157h1v1h-1zM565 157h1v1h-1zM566 157h1v1h-1zM567 158h1v1h-1zM568 158h1v1h-1zM569 159h1v1h-1zM570 159h1v1h-1zM571 160h1v1h-1zM572 161h1v1h-1zM573 161h1v1h-1zM574 162h1v1h-1zM575 162h1v1h-1zM576 163h1v1h-1zM577 164h1v1h-1zM578 165h1v1h-1zM579 166h1v1h-1zM580 167h1v1h-1zM581 167h1v1h-1zM582 167h1v1h-1zM583 168h1v1h-1zM584 168h1v1h-1zM585 168h1v1h-1zM586 169h1v1h-1zM587 169h1v1h-1zM588 169h1v1h-1zM589 169h1v1h-1zM590 168h1v1h-1zM591 168h1v1h-1zM592 168h1v1h-1zM593 168h1v1h-1zM594 168h1v1h-1zM595 169h1v1h-1zM596 169h1v1h-1zM597 169h1v1h-1zM598 170h1v1h-1zM599 170h1v1h-1zM600 170h1v1h-1zM601 170h1v1h-1zM602 171h1v1h-1zM603 171h1v1h-1zM604 171h1v1h-1zM605 171h1v1h-1zM606 172h1v1h-1zM607 172h1v1h-1zM608 172h1v1h-1zM609 173h1v1h-1zM610 173h1v1h-1zM611 174h1v1h-1zM612 174h1v1h-1zM613 174h1v1h-1zM614 174h1v1h-1zM615 175h1v1h-1zM616 175h1v1h-1zM617 175h1v1h-1zM618 175h1v1h-1zM619 175h1v1h-1zM620 176h1v1h-1zM621 176h1v1h-1zM622 176h1v1h-1zM623 176h1v1h-1zM624 177h1v1h-1zM625 178h1v2h-1zM626 180h1v1h-1zM627 181h1v1h-1zM628 182h1v1h-1zM629 183h1v1h-1zM630 184h1v2h-1zM631 186h1v1h-1zM632 187h1v2h-1zM633 189h1v1h-1zM634 190h1v1h-1zM635 191h1v1h-1zM636 192h1v1h-1zM637 193h1v1h-1zM638 194h1v1h-1zM639 195h1v1h-1zM640 196h1v1h-1zM641 197h1v1h-1zM642 198h1v1h-1zM643 199h1v1h-1zM644 200h1v1h-1zM645 201h1v1h-1zM646 202h1v1h-1zM647 203h1v1h-1zM648 204h1v1h-1zM649 205h1v1h-1zM650 206h1v1h-1zM651 206h1v1h-1zM652 207h1v1h-1zM653 208h1v1h-1zM654 209h1v1h-1zM655 210h1v1h-1zM656 211h1v1h-1zM657 211h1v1h-1zM658 212h1v1h-1zM659 212h1v1h-1zM660 213h1v1h-1zM661 213h1v1h-1zM662 214h1v1h-1zM663 214h1v2h-1zM664 216h1v1h-1zM665 217h1v1h-1zM666 218h1v2h-1zM667 220h1v1h-1zM668 221h1v2h-1zM669 223h1v1h-1zM670 224h1v1h-1zM671 225h1v2h-1zM672 227h1v1h-1zM673 228h1v2h-1zM674 230h1v1h-1zM675 231h1v1h-1zM676 232h1v2h-1zM677 234h1v1h-1zM678 235h1v2h-1zM679 237h1v1h-1zM680 238h1v1h-1zM681 239h1v1h-1zM682 240h1v1h-1zM683 241h1v1h-1zM684 242h1v1h-1zM685 243h1v1h-1zM686 244h1v2h-1zM687 246h1v1h-1zM688 247h1v2h-1zM689 249h1v1h-1zM690 250h1v2h-1zM691 252h1v1h-1zM692 253h1v2h-1zM693 255h1v1h-1zM694 256h1v2h-1zM695 258h1v1h-1zM696 259h1v1h-1zM697 260h1v1h-1zM698 261h1v1h-1zM699 262h1v1h-1zM700 263h1v1h-1zM701 264h1v2h-1zM702 266h1v1h-1zM703 267h1v1h-1zM704 268h1v1h-1zM705 269h1v1h-1zM706 270h1v1h-1zM707 271h1v1h-1zM708 272h1v1h-1zM709 273h1v1h-1zM710 273h1v1h-1zM711 274h1v1h-1zM712 274h1v1h-1zM713 274h1v1h-1zM714 275h1v1h-1zM715 275h1v1h-1zM716 275h1v1h-1zM717 275h1v1h-1zM718 275h1v1h-1zM719 276h1v1h-1zM720 276h1v1h-1zM721 276h1v1h-1zM722 277h1v1h-1zM723 277h1v1h-1zM724 278h1v1h-1zM725 279h1v1h-1zM726 279h1v1h-1zM727 280h1v1h-1zM728 281h1v1h-1zM729 282h1v1h-1zM730 283h1v1h-1zM731 284h1v1h-1zM732 285h1v1h-1zM733 286h1v1h-1zM734 287h1v1h-1zM735 288h1v1h-1zM736 289h1v2h-1zM737 291h1v1h-1zM738 292h1v2h-1zM739 294h1v1h-1zM740 295h1v2h-1zM741 297h1v1h-1zM742 298h1v2h-1zM743 300h1v1h-1zM744 301h1v1h-1zM745 302h1v1h-1zM746 303h1v2h-1zM747 305h1v1h-1zM748 306h1v1h-1zM749 307h1v1h-1zM750 308h1v1h-1zM751 309h1v1h-1zM752 310h1v1h-1zM753 310h1v1h-1zM754 311h1v1h-1zM755 312h1v1h-1zM756 313h1v1h-1zM757 313h1v1h-1zM758 314h1v1h-1zM759 314h1v1h-1zM760 315h1v1h-1zM761 315h1v1h-1zM762 316h1v1h-1zM763 316h1v1h-1zM764 317h1v1h-1zM765 318h1v2h-1zM766 320h1v1h-1zM767 321h1v1h-1zM768 322h1v1h-1zM769 323h1v1h-1zM770 323h1v1h-1zM771 324h1v1h-1zM772 325h1v1h-1zM773 325h1v1h-1zM774 326h1v1h-1zM775 327h1v1h-1zM776 328h1v1h-1zM777 328h1v1h-1zM778 329h1v1h-1zM779 330h1v1h-1zM780 331h1v1h-1zM781 332h1v1h-1zM782 332h1v1h-1zM783 332h1v1h-1zM784 333h1v1h-1zM785 333h1v1h-1zM786 334h1v1h-1zM787 334h1v1h-1zM788 334h1v1h-1zM789 335h1v1h-1zM790 335h1v1h-1zM791 336h1v1h-1zM792 336h1v1h-1zM793 337h1v1h-1zM794 338h1v1h-1zM795 338h1v1h-1zM796 339h1v1h-1zM797 340h1v1h-1zM798 340h1v1h-1zM799 341h1v1h-1zM800 342h1v1h-1zM801 343h1v1h-1zM802 343h1v1h-1zM803 344h1v1h-1zM804 345h1v1h-1zM805 346h1v1h-1zM806 346h1v1h-1zM807 346h1v1h-1zM808 346h1v1h-1zM809 347h1v1h-1zM810 347h1v1h-1zM811 347h1v1h-1zM812 348h1v1h-1zM813 347h1v1h-1zM814 347h1v1h-1zM815 347h1v1h-1zM816 347h1v1h-1zM817 347h1v1h-1zM818 347h1v1h-1zM819 347h1v1h-1zM820 347h1v1h-1zM821 347h1v1h-1zM822 347h1v1h-1zM823 347h1v1h-1zM824 347h1v1h-1zM825 347h1v1h-1zM826 347h1v1h-1zM827 347h1v1h-1zM828 348h1v1h-1zM829 348h1v1h-1zM830 348h1v1h-1zM831 348h1v1h-1zM832 348h1v1h-1zM833 349h1v1h-1zM834 349h1v1h-1zM835 349h1v1h-1zM836 350h1v1h-1zM837 351h1v1h-1zM838 351h1v1h-1zM839 352h1v1h-1zM840 353h1v1h-1zM841 354h1v1h-1zM842 355h1v1h-1zM843 356h1v1h-1zM844 357h1v1h-1zM845 358h1v1h-1zM846 359h1v2h-1zM847 361h1v1h-1zM848 362h1v1h-1zM849 363h1v1h-1zM850 364h1v2h-1zM851 366h1v1h-1zM852 367h1v1h-1zM853 368h1v1h-1zM854 369h1v1h-1zM855 370h1v1h-1zM856 371h1v1h-1zM857 372h1v1h-1zM858 372h1v1h-1zM859 373h1v1h-1zM860 373h1v1h-1zM861 374h1v1h-1zM862 374h1v1h-1zM863 374h1v1h-1zM864 375h1v1h-1zM865 376h1v1h-1zM866 376h1v1h-1zM867 377h1v1h-1zM868 378h1v1h-1zM869 379h1v1h-1zM870 379h1v1h-1zM871 380h1v1h-1zM872 380h1v1h-1zM873 380h1v1h-1zM874 381h1v1h-1zM875 381h1v1h-1zM876 382h1v1h-1zM877 382h1v1h-1zM878 382h1v1h-1zM879 383h1v1h-1zM880 383h1v1h-1zM881 384h1v1h-1zM882 384h1v1h-1zM883 385h1v1h-1zM884 385h1v1h-1zM885 385h1v1h-1zM886 385h1v1h-1zM887 385h1v1h-1zM888 385h1v1h-1zM889 385h1v1h-1zM890 385h1v1h-1zM891 384h1v1h-1zM892 384h1v1h-1zM893 383h1v1h-1zM894 383h1v1h-1zM895 383h1v1h-1zM896 382h1v1h-1zM897 382h1v1h-1zM898 381h1v1h-1zM899 381h1v1h-1zM900 380h1v1h-1zM901 380h1v1h-1zM902 379h1v1h-1zM903 379h1v1h-1zM904 379h1v1h-1zM905 378h1v1h-1zM906 378h1v1h-1zM907 377h1v1h-1zM908 377h1v1h-1zM909 377h1v1h-1zM910 376h1v1h-1zM911 376h1v1h-1zM912 375h1v1h-1zM913 375h1v1h-1zM914 375h1v1h-1zM915 374h1v1h-1zM916 374h1v1h-1zM917 374h1v1h-1zM918 374h1v1h-1zM919 373h1v1h-1zM920 373h1v1h-1zM921 373h1v1h-1zM922 372h1v1h-1zM923 372h1v1h-1zM924 372h1v1h-1z"/>
<path fill="#ff0000" shape-rendering="crispEdges" d="M4 302h1v2h-1zM5 300h1v2h-1zM6 298h1v2h-1zM7 296h1v2h-1zM8 294h1v2h-1zM9 292h1v2h-1zM10 290h1v2h-1zM11 288h1v2h-1zM12 286h1v2h-1zM13 285h1v1h-1zM14 284h1v1h-1zM15 282h1v2h-1zM16 281h1v1h-1zM17 279h1v2h-1zM18 278h1v1h-1zM19 277h1v1h-1zM20 276h1v1h-1zM21 275h1v1h-1zM22 273h1v2h-1zM23 272h1v1h-1zM24 271h1v1h-1zM25 270h1v1h-1zM26 269h1v1h-1zM27 267h1v2h-1zM28 266h1v1h-1zM29 265h1v1h-1zM30 264h1v1h-1zM31 263h1v1h-1zM32 262h1v1h-1zM33 260h1v2h-1zM34 259h1v1h-1zM35 258h1v1h-1zM36 257h1v1h-1zM37 255h1v2h-1zM38 254h1v1h-1zM39 253h1v1h-1zM40 252h1v1h-1zM41 252h1v1h-1zM42 252h1v1h-1zM43 251h1v1h-1zM44 251h1v1h-1zM45 251h1v1h-1zM46 251h1v1h-1zM47 250h1v2h-1zM48 248h1v2h-1zM49 246h1v2h-1zM50 244h1v2h-1zM51 243h1v1h-1zM52 242h1v1h-1zM53 240h1v2h-1zM54 239h1v1h-1zM55 237h1v2h-1zM56 236h1v1h-1zM57 234h1v2h-1zM58 233h1v1h-1zM59 232h1v1h-1zM60 231h1v1h-1zM61 230h1v1h-1zM62 229h1v1h-1zM63 228h1v1h-1zM64 227h1v1h-1zM65 226h1v1h-1zM66 225h1v1h-1zM67 224h1v1h-1zM68 223h1v1h-1zM69 222h1v1h-1zM70 221h1v1h-1zM71 219h1v2h-1zM72 218h1v1h-1zM73 217h1v1h-1zM74 215h1v2h-1zM75 214h1v1h-1zM76 213h1v1h-1zM77 211h1v2h-1zM78 210h1v1h-1zM79 208h1v2h-1zM80 206h1v2h-1zM81 204h1v2h-1zM82 202h1v2h-1zM83 200h1v2h-1zM84 199h1v1h-1zM85 198h1v1h-1zM86 196h1v2h-1zM87 195h1v1h-1zM88 194h1v1h-1zM89 193h1v1h-1zM90 192h1v1h-1zM91 191h1v1h-1zM92 189h1v2h-1zM93 188h1v1h-1zM94 187h1v1h-1zM95 185h1v2h-1zM96 184h1v1h-1zM97 183h1v1h-1zM98 181h1v2h-1zM99 180h1v1h-1zM100 179h1v1h-1zM101 177h1v2h-1zM102 176h1v1h-1zM103 175h1v1h-1zM104 175h1v1h-1zM105 175h1v1h-1zM106 175h1v1h-1zM107 175h1v1h-1zM108 175h1v1h-1zM109 175h1v1h-1zM110 175h1v1h-1zM111 175h1v1h-1zM112 176h1v1h-1zM113 176h1v1h-1zM114 175h1v1h-1zM115 175h1v1h-1zM116 175h1v1h-1zM117 175h1v1h-1zM118 175h1v1h-1zM119 174h1v1h-1zM120 174h1v1h-1zM121 174h1v1h-1zM122 174h1v1h-1zM123 173h1v1h-1zM124 173h1v1h-1zM125 173h1v1h-1zM126 173h1v1h-1zM127 173h1v1h-1zM128 174h1v1h-1zM129 174h1v1h-1zM130 175h1v1h-1zM131 175h1v1h-1zM132 176h1v1h-1zM133 176h1v1h-1zM134 176h1v1h-1zM135 176h1v1h-1zM136 177h1v1h-1zM137 177h1v1h-1zM138 177h1v1h-1zM139 177h1v1h-1zM140 177h1v1h-1zM141 177h1v1h-1zM142 177h1v1h-1zM143 178h1v1h-1zM144 178h1v1h-1zM145 178h1v1h-1zM146 179h1v1h-1zM147 179h1v1h-1zM148 180h1v1h-1zM149 180h1v1h-1zM150 181h1v1h-1zM151 182h1v1h-1zM152 183h1v1h-1zM153 184h1v1h-1zM154 185h1v2h-1zM155 187h1v1h-1zM156 188h1v1h-1zM157 189h1v1h-1zM158 190h1v1h-1zM159 191h1v1h-1zM160 192h1v1h-1zM161 193h1v1h-1zM162 194h1v1h-1zM163 194h1v1h-1zM164 195h1v1h-1zM165 196h1v1h-1zM166 197h1v1h-1zM167 198h1v1h-1zM168 198h1v1h-1zM169 199h1v1h-1zM170 200h1v1h-1zM171 200h1v1h-1zM172 201h1v1h-1zM173 202h1v1h-1zM174 202h1v1h-1zM175 203h1v1h-1zM176 203h1v1h-1zM177 204h1v1h-1zM178 205h1v1h-1zM179 205h1v1h-1zM180 206h1v1h-1zM181 206h1v1h-1zM182 206h1v1h-1zM183 206h1v1h-1zM184 206h1v1h-1zM185 206h1v1h-1zM186 206h1v1h-1zM187 206h1v1h-1zM188 206h1v1h-1zM189 205h1v1h-1zM190 205h1v1h-1zM191 205h1v1h-1zM192 205h1v1h-1zM193 205h1v1h-1zM194 205h1v1h-1zM195 205h1v1h-1zM196 205h1v1h-1zM197 205h1v1h-1zM198 204h1v1h-1zM199 203h1v1h-1zM200 203h1v1h-1zM201 202h1v1h-1zM202 201h1v1h-1zM203 201h1v1h-1zM204 200h1v1h-1zM205 199h1v1h-1zM206 198h1v1h-1zM207 197h1v1h-1zM208 196h1v1h-1zM209 195h1v1h-1zM210 194h1v1h-1zM211 193h1v1h-1zM212 191h1v2h-1zM213 190h1v1h-1zM214 189h1v1h-1zM215 188h1v1h-1zM216 187h1v1h-1zM217 185h1v2h-1zM218 183h1v2h-1zM219 181h1v2h-1zM220 179h1v2h-1zM221 178h1v1h-1zM222 176h1v2h-1zM223 174h1v2h-1zM224 172h1v2h-1zM225 170h1v2h-1zM226 167h1v3h-1zM227 165h1v2h-1zM228 163h1v2h-1zM229 161h1v2h-1zM230 159h1v2h-1zM231 157h1v2h-1zM232 155h1v2h-1zM233 153h1v2h-1zM234 151h1v2h-1zM235 149h1v2h-1zM236 147h1v2h-1zM237 145h1v2h-1zM238 143h1v2h-1zM239 141h1v2h-1zM240 139h1v2h-1zM241 138h1v1h-1zM242 136h1v2h-1zM243 135h1v1h-1zM244 134h1v1h-1zM245 134h1v1h-1zM246 133h1v1h-1zM247 133h1v1h-1zM248 133h1v1h-1zM249 134h1v1h-1zM250 134h1v1h-1zM251 135h1v1h-1zM252 135h1v1h-1zM253 135h1v1h-1zM254 134h1v1h-1zM255 134h1v1h-1zM256 133h1v1h-1zM257 133h1v1h-1zM258 132h1v1h-1zM259 132h1v1h-1zM260 132h1v1h-1zM261 132h1v1h-1zM262 131h1v1h-1zM263 131h1v1h-1zM264 131h1v1h-1zM265 131h1v1h-1zM266 131h1v1h-1zM267 131h1v1h-1zM268 131h1v1h-1zM269 131h1v1h-1zM270 131h1v1h-1zM271 132h1v1h-1zM272 132h1v1h-1zM273 133h1v1h-1zM274 133h1v1h-1zM275 134h1v1h-1zM276 135h1v1h-1zM277 135h1v2h-1zM278 137h1v1h-1zM279 138h1v2h-1zM280 140h1v1h-1zM281 141h1v2h-1zM282 143h1v1h-1zM283 144h1v2h-1zM284 146h1v1h-1zM285 147h1v2h-1zM286 149h1v1h-1zM287 150h1v1h-1zM288 151h1v2h-1zM289 153h1v1h-1zM290 154h1v2h-1zM291 156h1v1h-1zM292 157h1v2h-1zM293 159h1v1h-1zM294 160h1v2h-1zM295 162h1v2h-1zM296 164h1v1h-1zM297 165h1v2h-1zM298 167h1v2h-1zM299 169h1v1h-1zM300 170h1v1h-1zM301 170h1v1h-1zM302 170h1v1h-1zM303 170h1v1h-1zM304 171h1v1h-1zM305 171h1v1h-1zM306 171h1v1h-1zM307 171h1v1h-1zM308 171h1v1h-1zM309 172h1v1h-1zM310 172h1v1h-1zM311 172h1v1h-1zM312 172h1v1h-1zM313 173h1v1h-1zM314 173h1v1h-1zM315 173h1v1h-1zM316 173h1v1h-1zM317 174h1v1h-1zM318 174h1v1h-1zM319 175h1v1h-1zM320 175h1v1h-1zM321 176h1v1h-1zM322 176h1v1h-1zM323 176h1v1h-1zM324 177h1v1h-1zM325 177h1v1h-1zM326 176h1v1h-1zM327 175h1v1h-1zM328 175h1v1h-1zM329 174h1v1h-1zM330 174h1v1h-1zM331 174h1v1h-1zM332 174h1v1h-1zM333 173h1v1h-1zM334 174h1v1h-1zM335 175h1v1h-1zM336 176h1v1h-1zM337 176h1v1h-1zM338 177h1v1h-1zM339 178h1v1h-1zM340 179h1v1h-1zM341 180h1v1h-1zM342 181h1v1h-1zM343 182h1v1h-1zM344 183h1v1h-1zM345 184h1v1h-1zM346 185h1v1h-1zM347 186h1v1h-1zM348 187h1v1h-1zM349 188h1v1h-1zM350 189h1v2h-1zM351 191h1v1h-1zM352 192h1v1h-1zM353 193h1v1h-1zM354 194h1v1h-1zM355 195h1v1h-1zM356 196h1v1h-1zM357 197h1v1h-1zM358 198h1v1h-1zM359 199h1v1h-1zM360 200h1v1h-1zM361 201h1v2h-1zM362 203h1v1h-1zM363 203h1v1h-1zM364 204h1v1h-1zM365 205h1v1h-1zM366 205h1v1h-1zM367 206h1v1h-1zM368 207h1v1h-1zM369 208h1v2h-1zM370 210h1v2h-1zM371 212h1v1h-1zM372 213h1v2h-1zM373 215h1v1h-1zM374 215h1v1h-1zM375 215h1v1h-1zM376 215h1v1h-1zM377 215h1v1h-1zM378 216h1v2h-1zM379 218h1v1h-1zM380 219h1v1h-1zM381 220h1v2h-1zM382 222h1v1h-1zM383 223h1v1h-1zM384 223h1v1h-1zM385 224h1v1h-1zM386 224h1v1h-1zM387 224h1v1h-1zM388 225h1v1h-1zM389 225h1v1h-1zM390 225h1v1h-1zM391 225h1v1h-1zM392 225h1v1h-1zM393 225h1v1h-1zM394 225h1v1h-1zM395 224h1v1h-1zM396 224h1v1h-1zM397 224h1v1h-1zM398 224h1v1h-1zM399 224h1v1h-1zM400 224h1v1h-1zM401 223h1v1h-1zM402 223h1v1h-1zM403 223h1v1h-1zM404 222h1v1h-1zM405 222h1v1h-1zM406 222h1v1h-1zM407 221h1v1h-1zM408 220h1v1h-1zM409 219h1v1h-1zM410 218h1v1h-1zM411 217h1v1h-1zM412 216h1v1h-1zM413 215h1v1h-1zM414 214h1v1h-1zM415 213h1v1h-1zM416 212h1v1h-1zM417 211h1v1h-1zM418 210h1v1h-1zM419 209h1v1h-1zM420 207h1v2h-1zM421 206h1v1h-1zM422 205h1v1h-1zM423 204h1v1h-1zM424 202h1v2h-1zM425 201h1v1h-1zM426 200h1v1h-1zM427 199h1v1h-1zM428 198h1v1h-1zM429 198h1v1h-1zM430 197h1v1h-1zM431 196h1v1h-1zM432 196h1v1h-1zM433 195h1v1h-1zM434 194h1v1h-1zM435 193h1v1h-1zM436 193h1v1h-1zM437 192h1v1h-1zM438 191h1v1h-1zM439 190h1v1h-1zM440 189h1v1h-1zM441 188h1v1h-1zM442 187h1v1h-1zM443 186h1v1h-1zM444 184h1v2h-1zM445 183h1v1h-1zM446 182h1v1h-1zM447 181h1v1h-1zM448 180h1v1h-1zM449 178h1v2h-1zM450 177h1v1h-1zM451 175h1v2h-1zM452 173h1v2h-1zM453 172h1v1h-1zM454 170h1v2h-1zM455 169h1v1h-1zM456 168h1v1h-1zM457 167h1v1h-1zM458 166h1v1h-1zM459 166h1v1h-1zM460 165h1v1h-1zM461 165h1v1h-1zM462 165h1v1h-1zM463 165h1v1h-1zM464 166h1v1h-1zM465 166h1v1h-1zM466 166h1v1h-1zM467 167h1v1h-1zM468 167h1v1h-1zM469 167h1v1h-1zM470 167h1v1h-1zM471 167h1v1h-1zM472 167h1v1h-1zM473 167h1v1h-1zM474 166h1v1h-1zM475 166h1v1h-1zM476 167h1v1h-1zM477 167h1v1h-1zM478 167h1v1h-1zM479 167h1v1h-1zM480 167h1v1h-1zM481 167h1v1h-1zM482 167h1v1h-1zM483 166h1v1h-1zM484 165h1v1h-1zM485 164h1v1h-1zM486 163h1v1h-1zM487 162h1v2h-1zM488 161h1v1h-1zM489 160h1v1h-1zM490 159h1v1h-1zM491 158h1v1h-1zM492 157h1v1h-1zM493 156h1v1h-1zM494 155h1v1h-1zM495 155h1v1h-1zM496 154h1v1h-1zM497 153h1v1h-1zM498 153h1v1h-1zM499 152h1v1h-1zM500 152h1v1h-1zM501 152h1v1h-1zM502 153h1v1h-1zM503 153h1v1h-1zM504 154h1v1h-1zM505 154h1v1h-1zM506 155h1v1h-1zM507 155h1v1h-1zM508 155h1v1h-1zM509 155h1v1h-1zM510 155h1v1h-1zM511 156h1v1h-1zM512 156h1v1h-1zM513 155h1v1h-1zM514 155h1v1h-1zM515 154h1v1h-1zM516 154h1v1h-1zM517 154h1v1h-1zM518 153h1v1h-1zM519 153h1v1h-1zM520 152h1v1h-1zM521 152h1v1h-1zM522 152h1v1h-1zM523 151h1v1h-1zM524 151h1v1h-1zM525 150h1v1h-1zM526 150h1v1h-1zM527 150h1v1h-1zM528 149h1v1h-1zM529 149h1v1h-1zM530 148h1v1h-1zM531 148h1v1h-1zM532 147h1v1h-1zM533 147h1v1h-1zM534 147h1v1h-1zM535 148h1v1h-1zM536 148h1v1h-1zM537 148h1v1h-1zM538 148h1v1h-1zM539 149h1v1h-1zM540 149h1v1h-1zM541 150h1v1h-1zM542 151h1v1h-1zM543 152h1v1h-1zM544 153h1v1h-1zM545 154h1v1h-1zM546 155h1v1h-1zM547 156h1v1h-1zM548 157h1v1h-1zM549 158h1v1h-1zM550 159h1v1h-1zM551 160h1v1h-1zM552 161h1v1h-1zM553 162h1v1h-1zM554 162h1v1h-1zM555 163h1v1h-1zM556 164h1v1h-1zM557 165h1v1h-1zM558 166h1v1h-1zM559 166h1v1h-1zM560 166h1v1h-1zM561 166h1v1h-1zM562 166h1v1h-1zM563 166h1v1h-1zM564 166h1v1h-1zM565 166h1v1h-1zM566 166h1v1h-1zM567 167h1v1h-1zM568 167h1v1h-1zM569 167h1v1h-1zM570 168h1v1h-1zM571 168h1v1h-1zM572 168h1v1h-1zM573 169h1v1h-1zM574 169h1v1h-1zM575 169h1v1h-1zM576 170h1v1h-1zM577 170h1v1h-1zM578 170h1v1h-1zM579 171h1v1h-1zM580 171h1v1h-1zM581 171h1v1h-1zM582 172h1v1h-1zM583 172h1v1h-1zM584 173h1v1h-1zM585 174h1v1h-1zM586 174h1v1h-1zM587 175h1v1h-1zM588 175h1v1h-1zM589 175h1v1h-1zM590 175h1v1h-1zM591 175h1v1h-1zM592 175h1v1h-1zM593 175h1v1h-1zM594 174h1v1h-1zM595 174h1v1h-1zM596 174h1v1h-1zM597 174h1v1h-1zM598 174h1v1h-1zM599 174h1v1h-1zM600 174h1v1h-1zM601 174h1v1h-1zM602 174h1v1h-1zM603 174h1v1h-1zM604 173h1v1h-1zM605 173h1v1h-1zM606 173h1v1h-1zM607 173h1v1h-1zM608 174h1v1h-1zM609 174h1v1h-1zM610 175h1v1h-1zM611 175h1v1h-1zM612 176h1v1h-1zM613 176h1v1h-1zM614 176h1v1h-1zM615 176h1v1h-1zM616 176h1v1h-1zM617 177h1v1h-1zM618 177h1v1h-1zM619 177h1v1h-1zM620 177h1v1h-1zM621 178h1v1h-1zM622 179h1v1h-1zM623 179h1v1h-1zM624 180h1v1h-1zM625 181h1v2h-1zM626 183h1v2h-1zM627 185h1v2h-1zM628 187h1v2h-1zM629 189h1v1h-1zM630 190h1v2h-1zM631 192h1v1h-1zM632 193h1v2h-1zM633 195h1v1h-1zM634 196h1v1h-1zM635 197h1v2h-1zM636 199h1v2h-1zM637 201h1v2h-1zM638 203h1v1h-1zM639 204h1v2h-1zM640 206h1v2h-1zM641 208h1v2h-1zM642 210h1v1h-1zM643 211h1v1h-1zM644 212h1v2h-1zM645 214h1v1h-1zM646 215h1v2h-1zM647 217h1v1h-1zM648 218h1v2h-1zM649 220h1v1h-1zM650 221h1v1h-1zM651 222h1v2h-1zM652 224h1v1h-1zM653 225h1v1h-1zM654 226h1v2h-1zM655 228h1v1h-1zM656 229h1v1h-1zM657 230h1v1h-1zM658 231h1v1h-1zM659 232h1v1h-1zM660 233h1v1h-1zM661 234h1v1h-1zM662 235h1v2h-1zM663 237h1v1h-1zM664 238h1v1h-1zM665 239h1v2h-1zM666 241h1v1h-1zM667 242h1v2h-1zM668 244h1v2h-1zM669 246h1v1h-1zM670 247h1v3h-1zM671 250h1v2h-1zM672 252h1v2h-1zM673 254h1v2h-1zM674 256h1v2h-1zM675 258h1v2h-1zM676 260h1v1h-1zM677 261h1v2h-1zM678 263h1v2h-1zM679 265h1v1h-1zM680 266h1v1h-1zM681 266h1v1h-1zM682 266h1v1h-1zM683 266h1v1h-1zM684 266h1v1h-1zM685 266h1v1h-1zM686 266h1v1h-1zM687 266h1v1h-1zM688 266h1v1h-1zM689 266h1v1h-1zM690 266h1v1h-1zM691 266h1v1h-1zM692 266h1v1h-1zM693 266h1v1h-1zM694 267h1v1h-1zM695 267h1v1h-1zM696 268h1v1h-1zM697 268h1v1h-1zM698 269h1v1h-1zM699 270h1v1h-1zM700 270h1v1h-1zM701 271h1v1h-1zM702 272h1v1h-1zM703 273h1v1h-1zM704 274h1v1h-1zM705 275h1v1h-1zM706 275h1v1h-1zM707 276h1v1h-1zM708 277h1v1h-1zM709 277h1v1h-1zM710 278h1v1h-1zM711 279h1v1h-1zM712 280h1v1h-1zM713 281h1v1h-1zM714 282h1v1h-1zM715 283h1v1h-1zM716 284h1v2h-1zM717 286h1v1h-1zM718 286h1v1h-1zM719 287h1v1h-1zM720 288h1v1h-1zM721 288h1v1h-1zM722 289h1v1h-1zM723 290h1v1h-1zM724 290h1v1h-1zM725 291h1v1h-1zM726 291h1v1h-1zM727 292h1v1h-1zM728 293h1v1h-1zM729 293h1v1h-1zM730 294h1v1h-1zM731 294h1v1h-1zM732 295h1v1h-1zM733 296h1v2h-1zM734 298h1v1h-1zM735 299h1v2h-1zM736 301h1v1h-1zM737 302h1v1h-1zM738 303h1v2h-1zM739 305h1v1h-1zM740 306h1v2h-1zM741 308h1v1h-1zM742 309h1v1h-1zM743 310h1v2h-1zM744 312h1v1h-1zM745 313h1v1h-1zM746 314h1v2h-1zM747 316h1v2h-1zM748 318h1v2h-1zM749 320h1v1h-1zM750 321h1v1h-1zM751 322h1v1h-1zM752 322h1v1h-1zM753 323h1v1h-1zM754 324h1v1h-1zM755 324h1v1h-1zM756 325h1v1h-1zM757 326h1v1h-1zM758 327h1v1h-1zM759 328h1v1h-1zM760 329h1v1h-1zM761 330h1v1h-1zM762 331h1v1h-1zM763 332h1v2h-1zM764 334h1v1h-1zM765 335h1v1h-1zM766 336h1v1h-1zM767 337h1v1h-1zM768 338h1v1h-1zM769 339h1v1h-1zM770 339h1v1h-1zM771 340h1v1h-1zM772 341h1v1h-1zM773 341h1v1h-1zM774 342h1v1h-1zM775 343h1v1h-1zM776 344h1v1h-1zM777 345h1v1h-1zM778 345h1v1h-1zM779 346h1v1h-1zM780 347h1v1h-1zM781 348h1v1h-1zM782 348h1v1h-1zM783 348h1v1h-1zM784 348h1v1h-1zM785 348h1v1h-1zM786 349h1v1h-1zM787 349h1v1h-1zM788 349h1v1h-1zM789 348h1v1h-1zM790 348h1v1h-1zM791 347h1v1h-1zM792 347h1v1h-1zM793 347h1v1h-1zM794 346h1v1h-1zM795 346h1v1h-1zM796 345h1v1h-1zM797 345h1v1h-1zM798 345h1v1h-1zM799 345h1v1h-1zM800 345h1v1h-1zM801 345h1v1h-1zM802 346h1v1h-1zM803 346h1v1h-1zM804 346h1v1h-1zM805 346h1v1h-1zM806 346h1v1h-1zM807 347h1v1h-1zM808 347h1v1h-1zM809 347h1v1h-1zM810 347h1v1h-1zM811 347h1v1h-1zM812 347h1v1h-1zM813 347h1v1h-1zM814 347h1v1h-1zM815 347h1v1h-1zM816 347h1v1h-1zM817 347h1v1h-1zM818 347h1v1h-1zM819 347h1v1h-1zM820 348h1v1h-1zM821 348h1v1h-1zM822 348h1v1h-1zM823 348h1v1h-1zM824 348h1v1h-1zM825 348h1v1h-1zM826 348h1v1h-1zM827 348h1v1h-1zM828 348h1v1h-1zM829 348h1v1h-1zM830 348h1v1h-1zM831 348h1v1h-1zM832 349h1v1h-1zM833 349h1v1h-1zM834 349h1v1h-1zM835 349h1v1h-1zM836 350h1v1h-1zM837 351h1v2h-1zM838 353h1v1h-1zM839 354h1v1h-1zM840 355h1v1h-1zM841 356h1v2h-1zM842 358h1v2h-1zM843 360h1v2h-1zM844 362h1v2h-1zM845 364h1v2h-1zM846 366h1v2h-1zM847 368h1v2h-1zM848 370h1v2h-1zM849 372h1v2h-1zM850 374h1v3h-1zM851 377h1v2h-1zM852 379h1v3h-1zM853 382h1v1h-1zM854 383h1v1h-1zM855 384h1v1h-1zM856 385h1v1h-1zM857 386h1v1h-1zM858 387h1v1h-1zM859 388h1v1h-1zM860 388h1v1h-1zM861 389h1v1h-1zM862 390h1v1h-1zM863 390h1v1h-1zM864 391h1v1h-1zM865 392h1v1h-1zM866 392h1v1h-1zM867 393h1v1h-1zM868 394h1v1h-1zM869 395h1v1h-1zM870 395h1v1h-1zM871 396h1v1h-1zM872 396h1v1h-1zM873 397h1v1h-1zM874 397h1v1h-1zM875 398h1v1h-1zM876 398h1v1h-1zM877 399h1v1h-1zM878 400h1v1h-1zM879 400h1v1h-1zM880 401h1v1h-1zM881 402h1v1h-1zM882 402h1v1h-1zM883 403h1v1h-1zM884 403h1v1h-1zM885 403h1v1h-1zM886 403h1v1h-1zM887 402h1v1h-1zM888 401h1v1h-1zM889 400h1v1h-1zM890 399h1v1h-1zM891 397h1v2h-1zM892 396h1v1h-1zM893 394h1v2h-1zM894 392h1v2h-1zM895 390h1v2h-1zM896 389h1v1h-1zM897 387h1v2h-1zM898 384h1v3h-1zM899 382h1v2h-1zM900 379h1v3h-1zM901 376h1v3h-1zM902 374h1v2h-1zM903 371h1v3h-1zM904 369h1v2h-1zM905 367h1v2h-1zM906 364h1v3h-1zM907 362h1v2h-1zM908 360h1v2h-1zM909 359h1v1h-1zM910 358h1v1h-1zM911 357h1v1h-1zM912 356h1v1h-1zM913 355h1v1h-1zM914 354h1v1h-1zM915 353h1v1h-1zM916 352h1v1h-1zM917 351h1v1h-1zM918 350h1v1h-1zM919 349h1v1h-1zM920 348h1v1h-1zM921 347h1v1h-1zM922 346h1v1h-1zM923 345h1v1h-1zM924 345h1v1h-1z"/>
<g shape-rendering="crispEdges"><path fill="#ff0000" d="M4 261h1v20h-1zM4 261h2v9h-2z"/><path fill="#ff4500" d="M4 262h1v7h-1z"/><path fill="#ff0000" d="M8 246h1v21h-1zM7 254h3v12h-3z"/><path fill="#ff4500" d="M8 255h1v10h-1z"/><path fill="#ff0000" d="M12 218h1v48h-1zM11 227h3v27h-3z"/><path fill="#ff4500" d="M12 228h1v25h-1z"/><path fill="#32cd32" d="M16 221h1v24h-1zM15 228h3v5h-3z"/><path fill="#ff0000" d="M20 226h1v10h-1zM19 229h3v4h-3z"/><path fill="#ff4500" d="M20 230h1v2h-1z"/><path fill="#32cd32" d="M24 233h1v69h-1zM23 236h3v21h-3z"/><path fill="#32cd32" d="M28 237h1v40h-1zM27 256h3v19h-3z"/><path fill="#ff0000" d="M32 240h1v36h-1zM31 247h3v28h-3z"/><path fill="#ff4500" d="M32 248h1v26h-1z"/><path fill="#ff0000" d="M36 233h1v19h-1zM35 238h3v9h-3z"/><path fill="#ff4500" d="M36 239h1v7h-1z"/><path fill="#32cd32" d="M40 234h1v10h-1zM39 237h3v4h-3z"/><path fill="#32cd32" d="M44 226h1v32h-1zM43 238h3v15h-3z"/><path fill="#ff0000" d="M48 227h1v28h-1zM47 230h3v22h-3z"/><path fill="#ff4500" d="M48 231h1v20h-1z"/><path fill="#ff0000" d="M52 196h1v39h-1zM51 196h3v35h-3z"/><path fill="#ff4500" d="M52 197h1v33h-1z"/><path fill="#ff0000" d="M56 169h1v33h-1zM55 179h3v18h-3z"/><path fill="#ff4500" d="M56 180h1v16h-1z"/><path fill="#32cd32" d="M60 180h1v15h-1zM59 180h3v14h-3z"/><path fill="#32cd32" d="M64 170h1v29h-1zM63 192h3v6h-3z"/><path fill="#ff0000" d="M68 174h1v43h-1zM67 176h3v22h-3z"/><path fill="#ff4500" d="M68 177h1v20h-1z"/><path fill="#ff0000" d="M72 132h1v46h-1zM71 156h3v21h-3z"/><path fill="#ff4500" d="M72 157h1v19h-1z"/><path fill="#32cd32" d="M76 134h1v44h-1zM75 155h3v12h-3z"/><path fill="#ff0000" d="M80 143h1v29h-1zM79 151h3v16h-3z"/><path fill="#ff4500" d="M80 152h1v14h-1z"/><path fill="#32cd32" d="M84 149h1v28h-1zM83 151h3v16h-3z"/><path fill="#32cd32" d="M88 162h1v44h-1zM87 163h3v31h-3z"/><path fill="#ff0000" d="M92 170h1v27h-1zM91 177h3v16h-3z"/><path fill="#ff4500" d="M92 178h1v14h-1z"/><path fill="#ff0000" d="M96 151h1v31h-1zM95 170h3v9h-3z"/><path fill="#ff4500" d="M96 171h1v7h-1z"/><path fill="#ff0000" d="M100 154h1v25h-1zM99 156h3v15h-3z"/><path fill="#ff4500" d="M100 157h1v13h-1z"/><path fill="#32cd32" d="M104 139h1v60h-1zM103 156h3v33h-3z"/><path fill="#ff0000" d="M108 176h1v16h-1zM107 185h3v4h-3z"/><path fill="#ff4500" d="M108 186h1v2h-1z"/><path fill="#32cd32" d="M112 184h1v25h-1zM111 187h3v10h-3z"/><path fill="#ff0000" d="M116 176h1v26h-1zM115 187h3v10h-3z"/><path fill="#ff4500" d="M116 188h1v8h-1z"/><path fill="#ff0000" d="M120 160h1v36h-1zM119 168h3v20h-3z"/><path fill="#ff4500" d="M120 169h1v18h-1z"/><path fill="#ff0000" d="M124 150h1v24h-1zM123 159h3v10h-3z"/><path fill="#ff4500" d="M124 160h1v8h-1z"/><path fill="#32cd32" d="M128 156h1v33h-1zM127 159h3v21h-3z"/><path fill="#32cd32" d="M132 176h1v9h-1zM131 178h3v4h-3z"/><path fill="#32cd32" d="M136 167h1v22h-1zM135 185h3v3h-3z"/><path fill="#ff0000" d="M140 164h1v41h-1zM139 167h3v20h-3z"/><path fill="#ff4500" d="M140 168h1v18h-1z"/><path fill="#32cd32" d="M144 159h1v58h-1zM143 167h3v29h-3z"/><path fill="#32cd32" d="M148 195h1v46h-1zM147 195h3v10h-3z"/><path fill="#ff0000" d="M152 187h1v34h-1zM151 202h3v2h-3z"/><path fill="#32cd32" d="M156 201h1v22h-1zM155 202h3v17h-3z"/><path fill="#32cd32" d="M160 207h1v28h-1zM159 224h3v5h-3z"/><path fill="#32cd32" d="M164 207h1v47h-1zM163 228h3v19h-3z"/><path fill="#ff0000" d="M168 224h1v24h-1zM167 230h3v17h-3z"/><path fill="#ff4500" d="M168 231h1v15h-1z"/><path fill="#32cd32" d="M172 214h1v29h-1zM171 230h3v8h-3z"/><path fill="#ff0000" d="M176 209h1v36h-1zM175 209h3v29h-3z"/><path fill="#ff4500" d="M176 210h1v27h-1z"/><path fill="#ff0000" d="M180 203h1v10h-1zM179 204h3v6h-3z"/><path fill="#ff4500" d="M180 205h1v4h-1z"/><path fill="#ff0000" d="M184 182h1v31h-1zM183 185h3v19h-3z"/><path fill="#ff4500" d="M184 186h1v17h-1z"/><path fill="#ff0000" d="M188 172h1v21h-1zM187 177h3v8h-3z"/><path fill="#ff4500" d="M188 178h1v6h-1z"/><path fill="#ff0000" d="M192 163h1v21h-1zM191 174h3v6h-3z"/><path fill="#ff4500" d="M192 175h1v4h-1z"/><path fill="#ff0000" d="M196 155h1v29h-1zM195 161h3v14h-3z"/><path fill="#ff4500" d="M196 162h1v12h-1z"/><path fill="#32cd32" d="M200 160h1v21h-1zM199 161h3v5h-3z"/><path fill="#ff0000" d="M204 159h1v10h-1zM203 163h3v3h-3z"/><path fill="#ff4500" d="M204 164h1v1h-1z"/><path fill="#ff0000" d="M208 148h1v15h-1zM207 150h3v12h-3z"/><path fill="#ff4500" d="M208 151h1v10h-1z"/><path fill="#32cd32" d="M212 140h1v29h-1zM211 150h3v5h-3z"/><path fill="#32cd32" d="M216 152h1v27h-1zM215 154h3v20h-3z"/><path fill="#ff0000" d="M220 147h1v32h-1zM219 170h3v4h-3z"/><path fill="#ff4500" d="M220 171h1v2h-1z"/><path fill="#ff0000" d="M224 110h1v62h-1zM223 112h3v59h-3z"/><path fill="#ff4500" d="M224 113h1v57h-1z"/><path fill="#ff0000" d="M228 105h1v11h-1zM227 111h3v2h-3z"/><path fill="#ff0000" d="M232 86h1v31h-1zM231 93h3v17h-3z"/><path fill="#ff4500" d="M232 94h1v15h-1z"/><path fill="#ff0000" d="M236 78h1v27h-1zM235 91h3v3h-3z"/><path fill="#ff4500" d="M236 92h1v1h-1z"/><path fill="#ff0000" d="M240 73h1v25h-1zM239 86h3v5h-3z"/><path fill="#ff4500" d="M240 87h1v3h-1z"/><path fill="#ff0000" d="M244 44h1v44h-1zM243 68h3v19h-3z"/><path fill="#ff4500" d="M244 69h1v17h-1z"/><path fill="#32cd32" d="M248 65h1v110h-1zM247 68h3v101h-3z"/><path fill="#32cd32" d="M252 164h1v23h-1zM251 168h3v18h-3z"/><path fill="#ff0000" d="M256 148h1v37h-1zM255 150h3v31h-3z"/><path fill="#ff4500" d="M256 151h1v29h-1z"/><path fill="#ff0000" d="M260 135h1v38h-1zM259 136h3v15h-3z"/><path fill="#ff4500" d="M260 137h1v13h-1z"/><path fill="#32cd32" d="M264 124h1v33h-1zM263 136h3v8h-3z"/><path fill="#ff0000" d="M268 135h1v30h-1zM267 142h3v2h-3z"/><path fill="#32cd32" d="M272 136h1v91h-1zM271 142h3v66h-3z"/><path fill="#ff0000" d="M276 194h1v19h-1zM275 194h3v12h-3z"/><path fill="#ff4500" d="M276 195h1v10h-1z"/><path fill="#32cd32" d="M280 179h1v41h-1zM279 191h3v13h-3z"/><path fill="#ff0000" d="M284 180h1v47h-1zM283 190h3v16h-3z"/><path fill="#ff4500" d="M284 191h1v14h-1z"/><path fill="#ff0000" d="M288 168h1v37h-1zM287 183h3v8h-3z"/><path fill="#ff4500" d="M288 184h1v6h-1z"/><path fill="#ff0000" d="M292 149h1v39h-1zM291 158h3v26h-3z"/><path fill="#ff4500" d="M292 159h1v24h-1z"/><path fill="#32cd32" d="M296 142h1v37h-1zM295 158h3v9h-3z"/><path fill="#ff0000" d="M300 154h1v14h-1zM299 162h3v6h-3z"/><path fill="#ff4500" d="M300 163h1v4h-1z"/><path fill="#32cd32" d="M304 154h1v33h-1zM303 164h3v13h-3z"/><path fill="#ff0000" d="M308 161h1v24h-1zM307 167h3v10h-3z"/><path fill="#ff4500" d="M308 168h1v8h-1z"/><path fill="#32cd32" d="M312 162h1v26h-1zM311 167h3v19h-3z"/><path fill="#ff0000" d="M316 119h1v72h-1zM315 145h3v41h-3z"/><path fill="#ff4500" d="M316 146h1v39h-1z"/><path fill="#32cd32" d="M320 140h1v42h-1zM319 144h3v25h-3z"/><path fill="#ff0000" d="M324 162h1v8h-1zM323 166h3v3h-3z"/><path fill="#ff4500" d="M324 167h1v1h-1z"/><path fill="#ff0000" d="M328 163h1v25h-1zM327 166h3v13h-3z"/><path fill="#ff4500" d="M328 167h1v11h-1z"/><path fill="#32cd32" d="M332 162h1v49h-1zM331 166h3v33h-3z"/><path fill="#32cd32" d="M336 198h1v47h-1zM335 198h3v29h-3z"/><path fill="#32cd32" d="M340 223h1v32h-1zM339 226h3v26h-3z"/><path fill="#ff0000" d="M344 218h1v34h-1zM343 223h3v29h-3z"/><path fill="#ff4500" d="M344 224h1v27h-1z"/><path fill="#32cd32" d="M348 220h1v10h-1zM347 223h3v4h-3z"/><path fill="#ff0000" d="M352 210h1v20h-1zM351 216h3v3h-3z"/><path fill="#ff4500" d="M352 217h1v1h-1z"/><path fill="#32cd32" d="M356 206h1v33h-1zM355 216h3v18h-3z"/><path fill="#ff0000" d="M360 219h1v25h-1zM359 231h3v3h-3z"/><path fill="#ff4500" d="M360 232h1v1h-1z"/><path fill="#32cd32" d="M364 227h1v42h-1zM363 231h3v5h-3z"/><path fill="#ff0000" d="M368 227h1v9h-1zM367 229h3v7h-3z"/><path fill="#ff4500" d="M368 230h1v5h-1z"/><path fill="#32cd32" d="M372 234h1v5h-1zM371 236h3v1h-3z"/><path fill="#ff0000" d="M376 208h1v30h-1zM375 210h3v22h-3z"/><path fill="#ff4500" d="M376 211h1v20h-1z"/><path fill="#ff0000" d="M380 207h1v28h-1zM379 208h3v3h-3z"/><path fill="#ff4500" d="M380 209h1v1h-1z"/><path fill="#32cd32" d="M384 200h1v31h-1zM383 208h3v17h-3z"/><path fill="#ff0000" d="M388 213h1v24h-1zM387 218h3v7h-3z"/><path fill="#ff4500" d="M388 219h1v5h-1z"/><path fill="#32cd32" d="M392 208h1v35h-1zM391 218h3v5h-3z"/><path fill="#32cd32" d="M396 221h1v5h-1zM395 222h3v3h-3z"/><path fill="#32cd32" d="M400 220h1v20h-1zM399 226h3v2h-3z"/><path fill="#ff0000" d="M404 221h1v23h-1zM403 223h3v5h-3z"/><path fill="#ff4500" d="M404 224h1v3h-1z"/><path fill="#ff0000" d="M408 174h1v50h-1zM407 176h3v48h-3z"/><path fill="#ff4500" d="M408 177h1v46h-1z"/><path fill="#ff0000" d="M412 160h1v27h-1zM411 168h3v8h-3z"/><path fill="#ff4500" d="M412 169h1v6h-1z"/><path fill="#32cd32" d="M416 161h1v18h-1zM415 168h3v6h-3z"/><path fill="#32cd32" d="M420 171h1v6h-1zM419 173h3v2h-3z"/><path fill="#ff0000" d="M424 149h1v38h-1zM423 162h3v16h-3z"/><path fill="#ff4500" d="M424 163h1v14h-1z"/><path fill="#32cd32" d="M428 134h1v42h-1zM427 162h3v9h-3z"/><path fill="#ff0000" d="M432 160h1v30h-1zM431 163h3v8h-3z"/><path fill="#ff4500" d="M432 164h1v6h-1z"/><path fill="#32cd32" d="M436 159h1v27h-1zM435 163h3v16h-3z"/><path fill="#ff0000" d="M440 168h1v27h-1zM439 171h3v8h-3z"/><path fill="#ff4500" d="M440 172h1v6h-1z"/><path fill="#ff0000" d="M444 162h1v12h-1zM443 162h3v10h-3z"/><path fill="#ff4500" d="M444 163h1v8h-1z"/><path fill="#ff0000" d="M448 135h1v35h-1zM447 141h3v27h-3z"/><path fill="#ff4500" d="M448 142h1v25h-1z"/><path fill="#32cd32" d="M452 139h1v21h-1zM451 141h3v14h-3z"/><path fill="#32cd32" d="M456 153h1v25h-1zM455 154h3v4h-3z"/><path fill="#32cd32" d="M460 133h1v33h-1zM459 158h3v4h-3z"/><path fill="#32cd32" d="M464 149h1v39h-1zM463 162h3v21h-3z"/><path fill="#32cd32" d="M468 182h1v7h-1zM467 182h3v7h-3z"/><path fill="#ff0000" d="M472 158h1v29h-1zM471 162h3v19h-3z"/><path fill="#ff4500" d="M472 163h1v17h-1z"/><path fill="#32cd32" d="M476 158h1v44h-1zM475 162h3v34h-3z"/><path fill="#ff0000" d="M480 163h1v34h-1zM479 166h3v30h-3z"/><path fill="#ff4500" d="M480 167h1v28h-1z"/><path fill="#ff0000" d="M484 154h1v36h-1zM483 158h3v9h-3z"/><path fill="#ff4500" d="M484 159h1v7h-1z"/><path fill="#ff0000" d="M488 113h1v48h-1zM487 113h3v46h-3z"/><path fill="#ff4500" d="M488 114h1v44h-1z"/><path fill="#32cd32" d="M492 113h1v12h-1zM491 113h3v8h-3z"/><path fill="#ff0000" d="M496 99h1v26h-1zM495 107h3v11h-3z"/><path fill="#ff4500" d="M496 108h1v9h-1z"/><path fill="#32cd32" d="M500 106h1v27h-1zM499 107h3v16h-3z"/><path fill="#32cd32" d="M504 119h1v56h-1zM503 122h3v52h-3z"/><path fill="#32cd32" d="M508 167h1v29h-1zM507 173h3v7h-3z"/><path fill="#ff0000" d="M512 151h1v36h-1zM511 153h3v27h-3z"/><path fill="#ff4500" d="M512 154h1v25h-1z"/><path fill="#ff0000" d="M516 148h1v6h-1zM515 148h3v6h-3z"/><path fill="#ff4500" d="M516 149h1v4h-1z"/><path fill="#32cd32" d="M520 150h1v26h-1zM519 152h3v7h-3z"/><path fill="#ff0000" d="M524 135h1v27h-1zM523 151h3v8h-3z"/><path fill="#ff4500" d="M524 152h1v6h-1z"/><path fill="#32cd32" d="M528 139h1v35h-1zM527 151h3v14h-3z"/><path fill="#ff0000" d="M532 151h1v34h-1zM531 152h3v13h-3z"/><path fill="#ff4500" d="M532 153h1v11h-1z"/><path fill="#32cd32" d="M536 150h1v27h-1zM535 152h3v24h-3z"/><path fill="#ff0000" d="M540 173h1v8h-1zM539 174h3v3h-3z"/><path fill="#ff4500" d="M540 175h1v1h-1z"/><path fill="#ff0000" d="M544 163h1v24h-1zM543 170h3v8h-3z"/><path fill="#ff4500" d="M544 171h1v6h-1z"/><path fill="#ff0000" d="M548 153h1v20h-1zM547 170h3v1h-3z"/><path fill="#ff0000" d="M552 144h1v31h-1zM551 169h3v2h-3z"/><path fill="#32cd32" d="M556 162h1v17h-1zM555 169h3v4h-3z"/><path fill="#32cd32" d="M560 167h1v34h-1zM559 172h3v16h-3z"/><path fill="#ff0000" d="M564 182h1v6h-1zM563 185h3v3h-3z"/><path fill="#ff4500" d="M564 186h1v1h-1z"/><path fill="#ff0000" d="M568 170h1v20h-1zM567 170h3v14h-3z"/><path fill="#ff4500" d="M568 171h1v12h-1z"/><path fill="#ff0000" d="M572 156h1v20h-1zM571 159h3v12h-3z"/><path fill="#ff4500" d="M572 160h1v10h-1z"/><path fill="#32cd32" d="M576 155h1v28h-1zM575 159h3v7h-3z"/><path fill="#32cd32" d="M580 163h1v51h-1zM579 165h3v48h-3z"/><path fill="#ff0000" d="M584 168h1v48h-1zM583 169h3v43h-3z"/><path fill="#ff4500" d="M584 170h1v41h-1z"/><path fill="#ff0000" d="M588 168h1v4h-1zM587 168h3v2h-3z"/><path fill="#ff0000" d="M592 158h1v19h-1zM591 159h3v12h-3z"/><path fill="#ff4500" d="M592 160h1v10h-1z"/><path fill="#32cd32" d="M596 158h1v17h-1zM595 159h3v11h-3z"/><path fill="#32cd32" d="M600 158h1v20h-1zM599 160h3v18h-3z"/><path fill="#ff0000" d="M604 159h1v23h-1zM603 165h3v11h-3z"/><path fill="#ff4500" d="M604 166h1v9h-1z"/><path fill="#32cd32" d="M608 153h1v42h-1zM607 165h3v27h-3z"/><path fill="#ff0000" d="M612 188h1v8h-1zM611 188h3v4h-3z"/><path fill="#ff4500" d="M612 189h1v2h-1z"/><path fill="#ff0000" d="M616 179h1v14h-1zM615 181h3v5h-3z"/><path fill="#ff4500" d="M616 182h1v3h-1z"/><path fill="#32cd32" d="M620 181h1v21h-1zM619 181h3v21h-3z"/><path fill="#ff0000" d="M624 182h1v20h-1zM623 184h3v18h-3z"/><path fill="#ff4500" d="M624 185h1v16h-1z"/><path fill="#32cd32" d="M628 180h1v80h-1zM627 182h3v77h-3z"/><path fill="#32cd32" d="M632 255h1v39h-1zM631 258h3v27h-3z"/><path fill="#ff0000" d="M636 278h1v10h-1zM635 284h3v1h-3z"/><path fill="#ff0000" d="M640 266h1v29h-1zM639 271h3v13h-3z"/><path fill="#ff4500" d="M640 272h1v11h-1z"/><path fill="#32cd32" d="M644 262h1v25h-1zM643 270h3v2h-3z"/><path fill="#ff0000" d="M648 237h1v35h-1zM647 242h3v30h-3z"/><path fill="#ff4500" d="M648 243h1v28h-1z"/><path fill="#32cd32" d="M652 240h1v14h-1zM651 242h3v8h-3z"/><path fill="#ff0000" d="M656 228h1v21h-1zM655 239h3v10h-3z"/><path fill="#ff4500" d="M656 240h1v8h-1z"/><path fill="#32cd32" d="M660 239h1v7h-1zM659 239h3v4h-3z"/><path fill="#32cd32" d="M664 236h1v23h-1zM663 243h3v7h-3z"/><path fill="#32cd32" d="M668 249h1v32h-1zM667 249h3v28h-3z"/><path fill="#32cd32" d="M672 271h1v17h-1zM671 276h3v11h-3z"/><path fill="#32cd32" d="M676 280h1v22h-1zM675 286h3v12h-3z"/><path fill="#ff0000" d="M680 283h1v28h-1zM679 285h3v13h-3z"/><path fill="#ff4500" d="M680 286h1v11h-1z"/><path fill="#ff0000" d="M684 267h1v21h-1zM683 270h3v16h-3z"/><path fill="#ff4500" d="M684 271h1v14h-1z"/><path fill="#ff0000" d="M688 267h1v13h-1zM687 268h3v7h-3z"/><path fill="#ff4500" d="M688 269h1v5h-1z"/><path fill="#32cd32" d="M692 237h1v54h-1zM691 269h3v17h-3z"/><path fill="#32cd32" d="M696 268h1v34h-1zM695 285h3v7h-3z"/><path fill="#32cd32" d="M700 280h1v44h-1zM699 291h3v23h-3z"/><path fill="#ff0000" d="M704 289h1v38h-1zM703 294h3v21h-3z"/><path fill="#ff4500" d="M704 295h1v19h-1z"/><path fill="#ff0000" d="M708 288h1v7h-1zM707 288h3v7h-3z"/><path fill="#ff4500" d="M708 289h1v5h-1z"/><path fill="#ff0000" d="M712 285h1v24h-1zM711 288h3v2h-3z"/><path fill="#32cd32" d="M716 282h1v37h-1zM715 289h3v9h-3z"/><path fill="#32cd32" d="M720 290h1v27h-1zM719 297h3v3h-3z"/><path fill="#32cd32" d="M724 290h1v26h-1zM723 299h3v16h-3z"/><path fill="#32cd32" d="M728 311h1v21h-1zM727 314h3v14h-3z"/><path fill="#32cd32" d="M732 323h1v9h-1zM731 326h3v5h-3z"/><path fill="#32cd32" d="M736 333h1v33h-1zM735 335h3v23h-3z"/><path fill="#32cd32" d="M740 351h1v28h-1zM739 358h3v9h-3z"/><path fill="#ff0000" d="M744 351h1v33h-1zM743 352h3v15h-3z"/><path fill="#ff4500" d="M744 353h1v13h-1z"/><path fill="#ff0000" d="M748 332h1v27h-1zM747 348h3v5h-3z"/><path fill="#ff4500" d="M748 349h1v3h-1z"/><path fill="#32cd32" d="M752 336h1v16h-1zM751 348h3v1h-3z"/><path fill="#ff0000" d="M756 344h1v5h-1zM755 348h3v1h-3z"/><path fill="#ff0000" d="M760 335h1v29h-1zM759 337h3v10h-3z"/><path fill="#ff4500" d="M760 338h1v8h-1z"/><path fill="#32cd32" d="M764 336h1v25h-1zM763 338h3v9h-3z"/><path fill="#32cd32" d="M768 343h1v25h-1zM767 346h3v11h-3z"/><path fill="#ff0000" d="M772 324h1v47h-1zM771 331h3v25h-3z"/><path fill="#ff4500" d="M772 332h1v23h-1z"/><path fill="#32cd32" d="M776 329h1v29h-1zM775 329h3v26h-3z"/><path fill="#32cd32" d="M780 354h1v10h-1zM779 354h3v9h-3z"/><path fill="#ff0000" d="M784 339h1v26h-1zM783 348h3v10h-3z"/><path fill="#ff4500" d="M784 349h1v8h-1z"/><path fill="#ff0000" d="M788 327h1v26h-1zM787 338h3v12h-3z"/><path fill="#ff4500" d="M788 339h1v10h-1z"/><path fill="#32cd32" d="M792 318h1v28h-1zM791 338h3v4h-3z"/><path fill="#ff0000" d="M796 323h1v20h-1zM795 327h3v15h-3z"/><path fill="#ff4500" d="M796 328h1v13h-1z"/><path fill="#32cd32" d="M800 327h1v30h-1zM799 327h3v26h-3z"/><path fill="#32cd32" d="M804 350h1v5h-1zM803 352h3v3h-3z"/><path fill="#ff0000" d="M808 348h1v18h-1zM807 359h3v1h-3z"/><path fill="#ff0000" d="M812 352h1v19h-1zM811 357h3v3h-3z"/><path fill="#ff4500" d="M812 358h1v1h-1z"/><path fill="#ff0000" d="M816 337h1v31h-1zM815 343h3v15h-3z"/><path fill="#ff4500" d="M816 344h1v13h-1z"/><path fill="#32cd32" d="M820 336h1v26h-1zM819 344h3v14h-3z"/><path fill="#ff0000" d="M824 340h1v24h-1zM823 342h3v16h-3z"/><path fill="#ff4500" d="M824 343h1v14h-1z"/><path fill="#32cd32" d="M828 340h1v6h-1zM827 342h3v2h-3z"/><path fill="#32cd32" d="M832 344h1v26h-1zM831 345h3v16h-3z"/><path fill="#32cd32" d="M836 359h1v42h-1zM835 360h3v41h-3z"/><path fill="#32cd32" d="M840 392h1v20h-1zM839 400h3v9h-3z"/><path fill="#32cd32" d="M844 395h1v57h-1zM843 409h3v32h-3z"/><path fill="#32cd32" d="M848 439h1v32h-1zM847 440h3v18h-3z"/><path fill="#ff0000" d="M852 452h1v7h-1zM851 455h3v3h-3z"/><path fill="#ff4500" d="M852 456h1v1h-1z"/><path fill="#ff0000" d="M856 421h1v35h-1zM855 422h3v33h-3z"/><path fill="#ff4500" d="M856 423h1v31h-1z"/><path fill="#ff0000" d="M860 392h1v34h-1zM859 400h3v22h-3z"/><path fill="#ff4500" d="M860 401h1v20h-1z"/><path fill="#ff0000" d="M864 394h1v15h-1zM863 395h3v6h-3z"/><path fill="#ff4500" d="M864 396h1v4h-1z"/><path fill="#32cd32" d="M868 387h1v20h-1zM867 394h3v8h-3z"/><path fill="#ff0000" d="M872 374h1v42h-1zM871 374h3v28h-3z"/><path fill="#ff4500" d="M872 375h1v26h-1z"/><path fill="#ff0000" d="M876 370h1v6h-1zM875 372h3v3h-3z"/><path fill="#ff4500" d="M876 373h1v1h-1z"/><path fill="#32cd32" d="M880 369h1v17h-1zM879 373h3v9h-3z"/><path fill="#ff0000" d="M884 358h1v27h-1zM883 375h3v7h-3z"/><path fill="#ff4500" d="M884 376h1v5h-1z"/><path fill="#ff0000" d="M888 343h1v33h-1zM887 346h3v30h-3z"/><path fill="#ff4500" d="M888 347h1v28h-1z"/><path fill="#ff0000" d="M892 326h1v27h-1zM891 331h3v16h-3z"/><path fill="#ff4500" d="M892 332h1v14h-1z"/><path fill="#ff0000" d="M896 294h1v40h-1zM895 311h3v21h-3z"/><path fill="#ff4500" d="M896 312h1v19h-1z"/><path fill="#ff0000" d="M900 300h1v13h-1zM899 303h3v9h-3z"/><path fill="#ff4500" d="M900 304h1v7h-1z"/><path fill="#32cd32" d="M904 306h1v13h-1zM903 307h3v8h-3z"/><path fill="#32cd32" d="M908 299h1v45h-1zM907 314h3v21h-3z"/><path fill="#32cd32" d="M912 329h1v29h-1zM911 334h3v13h-3z"/><path fill="#ff0000" d="M916 333h1v24h-1zM915 340h3v7h-3z"/><path fill="#ff4500" d="M916 341h1v5h-1z"/><path fill="#32cd32" d="M920 326h1v25h-1zM919 340h3v8h-3z"/><path fill="#32cd32" d="M924 343h1v7h-1zM923 346h3v3h-3z"/></g>
<path fill="#c0c0c0" shape-rendering="crispEdges" d="M4 494h2v36h-2zM7 494h3v36h-3zM11 493h3v37h-3zM15 491h3v39h-3zM19 490h3v40h-3zM23 490h3v40h-3zM27 490h3v40h-3zM31 491h3v39h-3zM35 495h3v35h-3zM39 498h3v32h-3zM43 500h3v30h-3zM47 500h3v30h-3zM51 497h3v33h-3zM55 496h3v34h-3zM59 494h3v36h-3zM63 492h3v38h-3zM67 490h3v40h-3zM71 489h3v41h-3zM75 489h3v41h-3zM79 488h3v42h-3zM83 489h3v41h-3zM87 489h3v41h-3zM91 490h3v40h-3zM95 492h3v38h-3zM99 496h3v34h-3zM103 499h3v31h-3zM107 502h3v28h-3zM111 505h3v25h-3zM115 507h3v23h-3zM119 507h3v23h-3zM123 507h3v23h-3zM127 509h3v21h-3zM131 512h3v18h-3zM135 513h3v17h-3zM139 513h3v17h-3zM143 516h3v14h-3zM147 519h3v11h-3zM151 522h3v8h-3zM155 525h3v5h-3zM159 528h3v2h-3zM163 530h3v3h-3zM167 530h3v5h-3zM171 530h3v7h-3zM175 530h3v6h-3zM179 530h3v5h-3zM183 530h3v2h-3zM187 528h3v2h-3zM191 527h3v3h-3zM195 524h3v6h-3zM199 522h3v8h-3zM203 521h3v9h-3zM207 518h3v12h-3zM211 517h3v13h-3zM215 518h3v12h-3zM219 518h3v12h-3zM223 514h3v16h-3zM227 510h3v20h-3zM231 507h3v23h-3zM235 504h3v26h-3zM239 502h3v28h-3zM243 497h3v33h-3zM247 504h3v26h-3zM251 511h3v19h-3zM255 514h3v16h-3zM259 515h3v15h-3zM263 516h3v14h-3zM267 518h3v12h-3zM271 524h3v6h-3zM275 529h3v1h-3zM279 530h3v3h-3zM283 530h3v5h-3zM287 530h3v7h-3zM291 530h3v6h-3zM295 530h3v5h-3zM299 530h3v3h-3zM303 530h3v5h-3zM307 530h3v5h-3zM311 530h3v6h-3zM315 530h3v3h-3zM319 530h3v3h-3zM323 530h3v3h-3zM327 530h3v3h-3zM331 530h3v4h-3zM335 530h3v10h-3zM339 530h3v15h-3zM343 530h3v17h-3zM347 530h3v18h-3zM351 530h3v19h-3zM355 530h3v20h-3zM359 530h3v21h-3zM363 530h3v21h-3zM367 530h3v21h-3zM371 530h3v21h-3zM375 530h3v20h-3zM379 530h3v17h-3zM383 530h3v16h-3zM387 530h3v15h-3zM391 530h3v15h-3zM395 530h3v14h-3zM399 530h3v14h-3zM403 530h3v13h-3zM407 530h3v8h-3zM411 530h3v4h-3zM415 530h3v1h-3zM419 527h3v3h-3zM423 524h3v6h-3zM427 523h3v7h-3zM431 521h3v9h-3zM435 521h3v9h-3zM439 521h3v9h-3zM443 520h3v10h-3zM447 517h3v13h-3zM451 517h3v13h-3zM455 517h3v13h-3zM459 517h3v13h-3zM463 520h3v10h-3zM467 522h3v8h-3zM471 522h3v8h-3zM475 525h3v5h-3zM479 524h3v6h-3zM483 523h3v7h-3zM487 519h3v11h-3zM491 516h3v14h-3zM495 513h3v17h-3zM499 512h3v18h-3zM503 516h3v14h-3zM507 519h3v11h-3zM511 520h3v10h-3zM515 521h3v9h-3zM519 522h3v8h-3zM523 522h3v8h-3zM527 524h3v6h-3zM531 524h3v6h-3zM535 526h3v4h-3zM539 529h3v1h-3zM543 530h3v1h-3zM547 530h3v1h-3zM551 530h3v2h-3zM555 530h3v2h-3zM559 530h3v4h-3zM563 530h3v5h-3zM567 530h3v5h-3zM571 530h3v4h-3zM575 530h3v3h-3zM579 530h3v7h-3zM583 530h3v6h-3zM587 530h3v5h-3zM591 530h3v4h-3zM595 530h3v3h-3zM599 530h3v3h-3zM603 530h3v3h-3zM607 530h3v4h-3zM611 530h3v5h-3zM615 530h3v6h-3zM619 530h3v7h-3zM623 530h3v7h-3zM627 530h3v14h-3zM631 530h3v21h-3zM635 530h3v26h-3zM639 530h3v29h-3zM643 530h3v30h-3zM647 530h3v29h-3zM651 530h3v28h-3zM655 530h3v26h-3zM659 530h3v25h-3zM663 530h3v25h-3zM667 530h3v26h-3zM671 530h3v27h-3zM675 530h3v29h-3zM679 530h3v30h-3zM683 530h3v28h-3zM687 530h3v27h-3zM691 530h3v26h-3zM695 530h3v27h-3zM699 530h3v28h-3zM703 530h3v28h-3zM707 530h3v27h-3zM711 530h3v25h-3zM715 530h3v25h-3zM719 530h3v25h-3zM723 530h3v25h-3zM727 530h3v26h-3zM731 530h3v27h-3zM735 530h3v30h-3zM739 530h3v33h-3zM743 530h3v34h-3zM747 530h3v33h-3zM751 530h3v32h-3zM755 530h3v31h-3zM759 530h3v30h-3zM763 530h3v29h-3zM767 530h3v29h-3zM771 530h3v26h-3zM775 530h3v25h-3zM779 530h3v25h-3zM783 530h3v24h-3zM787 530h3v22h-3zM791 530h3v20h-3zM795 530h3v17h-3zM799 530h3v17h-3zM803 530h3v17h-3zM807 530h3v17h-3zM811 530h3v15h-3zM815 530h3v15h-3zM819 530h3v14h-3zM823 530h3v13h-3zM827 530h3v12h-3zM831 530h3v13h-3zM835 530h3v16h-3zM839 530h3v20h-3zM843 530h3v25h-3zM847 530h3v30h-3zM851 530h3v34h-3zM855 530h3v33h-3zM859 530h3v31h-3zM863 530h3v28h-3zM867 530h3v27h-3zM871 530h3v22h-3zM875 530h3v18h-3zM879 530h3v16h-3zM883 530h3v13h-3zM887 530h3v9h-3zM891 530h3v4h-3zM895 527h3v3h-3zM899 522h3v8h-3zM903 519h3v11h-3zM907 519h3v11h-3zM911 519h3v11h-3zM915 520h3v10h-3zM919 521h3v9h-3zM923 522h3v8h-3z"/>
<path fill="#ff0000" shape-rendering="crispEdges" d="M4 499h1v1h-1zM5 498h1v1h-1zM6 498h1v1h-1zM7 498h1v1h-1zM8 497h1v1h-1zM9 497h1v1h-1zM10 496h1v1h-1zM11 496h1v1h-1zM12 496h1v1h-1zM13 495h1v1h-1zM14 495h1v1h-1zM15 495h1v1h-1zM16 494h1v1h-1zM17 494h1v1h-1zM18 494h1v1h-1zM19 493h1v1h-1zM20 493h1v1h-1zM21 493h1v1h-1zM22 493h1v1h-1zM23 493h1v1h-1zM24 493h1v1h-1zM25 493h1v1h-1zM26 493h1v1h-1zM27 493h1v1h-1zM28 493h1v1h-1zM29 493h1v1h-1zM30 493h1v1h-1zM31 493h1v1h-1zM32 493h1v1h-1zM33 493h1v1h-1zM34 493h1v1h-1zM35 493h1v1h-1zM36 493h1v1h-1zM37 493h1v1h-1zM38 493h1v1h-1zM39 493h1v1h-1zM40 493h1v1h-1zM41 493h1v1h-1zM42 493h1v1h-1zM43 493h1v1h-1zM44 494h1v1h-1zM45 494h1v1h-1zM46 494h1v1h-1zM47 495h1v1h-1zM48 495h1v1h-1zM49 496h1v1h-1zM50 496h1v1h-1zM51 496h1v1h-1zM52 496h1v1h-1zM53 497h1v1h-1zM54 497h1v1h-1zM55 497h1v1h-1zM56 497h1v1h-1zM57 497h1v1h-1zM58 497h1v1h-1zM59 497h1v1h-1zM60 497h1v1h-1zM61 497h1v1h-1zM62 497h1v1h-1zM63 497h1v1h-1zM64 497h1v1h-1zM65 497h1v1h-1zM66 497h1v1h-1zM67 497h1v1h-1zM68 496h1v1h-1zM69 496h1v1h-1zM70 496h1v1h-1zM71 495h1v1h-1zM72 495h1v1h-1zM73 495h1v1h-1zM74 494h1v1h-1zM75 494h1v1h-1zM76 493h1v1h-1zM77 493h1v1h-1zM78 493h1v1h-1zM79 493h1v1h-1zM80 492h1v1h-1zM81 492h1v1h-1zM82 492h1v1h-1zM83 492h1v1h-1zM84 492h1v1h-1zM85 492h1v1h-1zM86 492h1v1h-1zM87 492h1v1h-1zM88 492h1v1h-1zM89 492h1v1h-1zM90 492h1v1h-1zM91 492h1v1h-1zM92 492h1v1h-1zM93 492h1v1h-1zM94 492h1v1h-1zM95 492h1v1h-1zM96 492h1v1h-1zM97 492h1v1h-1zM98 492h1v1h-1zM99 492h1v1h-1zM100 492h1v1h-1zM101 492h1v1h-1zM102 492h1v1h-1zM103 492h1v1h-1zM104 492h1v1h-1zM105 492h1v1h-1zM106 493h1v1h-1zM107 493h1v1h-1zM108 493h1v1h-1zM109 494h1v1h-1zM110 494h1v1h-1zM111 495h1v1h-1zM112 496h1v1h-1zM113 496h1v1h-1zM114 497h1v1h-1zM115 497h1v1h-1zM116 498h1v1h-1zM117 498h1v1h-1zM118 499h1v1h-1zM119 500h1v1h-1zM120 500h1v1h-1zM121 501h1v1h-1zM122 501h1v1h-1zM123 501h1v1h-1zM124 502h1v1h-1zM125 502h1v1h-1zM126 503h1v1h-1zM127 503h1v1h-1zM128 503h1v1h-1zM129 504h1v1h-1zM130 504h1v1h-1zM131 505h1v1h-1zM132 505h1v1h-1zM133 506h1v1h-1zM134 506h1v1h-1zM135 506h1v1h-1zM136 507h1v1h-1zM137 507h1v1h-1zM138 508h1v1h-1zM139 508h1v1h-1zM140 508h1v1h-1zM141 509h1v1h-1zM142 509h1v1h-1zM143 509h1v1h-1zM144 510h1v1h-1zM145 510h1v1h-1zM146 510h1v1h-1zM147 511h1v1h-1zM148 511h1v1h-1zM149 511h1v1h-1zM150 512h1v1h-1zM151 512h1v1h-1zM152 513h1v1h-1zM153 513h1v1h-1zM154 513h1v1h-1zM155 514h1v1h-1zM156 514h1v1h-1zM157 515h1v1h-1zM158 515h1v1h-1zM159 516h1v1h-1zM160 516h1v1h-1zM161 517h1v1h-1zM162 518h1v1h-1zM163 518h1v1h-1zM164 519h1v1h-1zM165 520h1v1h-1zM166 520h1v1h-1zM167 521h1v1h-1zM168 522h1v1h-1zM169 523h1v1h-1zM170 523h1v1h-1zM171 524h1v1h-1zM172 524h1v1h-1zM173 525h1v1h-1zM174 526h1v1h-1zM175 526h1v1h-1zM176 527h1v1h-1zM177 527h1v1h-1zM178 528h1v1h-1zM179 528h1v1h-1zM180 529h1v1h-1zM181 530h1v1h-1zM182 530h1v1h-1zM183 530h1v1h-1zM184 530h1v1h-1zM185 531h1v1h-1zM186 531h1v1h-1zM187 531h1v1h-1zM188 531h1v1h-1zM189 532h1v1h-1zM190 532h1v1h-1zM191 532h1v1h-1zM192 532h1v1h-1zM193 532h1v1h-1zM194 532h1v1h-1zM195 532h1v1h-1zM196 532h1v1h-1zM197 531h1v1h-1zM198 531h1v1h-1zM199 530h1v1h-1zM200 530h1v1h-1zM201 529h1v1h-1zM202 529h1v1h-1zM203 528h1v1h-1zM204 528h1v1h-1zM205 528h1v1h-1zM206 527h1v1h-1zM207 527h1v1h-1zM208 526h1v1h-1zM209 526h1v1h-1zM210 525h1v1h-1zM211 525h1v1h-1zM212 524h1v1h-1zM213 524h1v1h-1zM214 524h1v1h-1zM215 523h1v1h-1zM216 523h1v1h-1zM217 522h1v1h-1zM218 522h1v1h-1zM219 521h1v1h-1zM220 521h1v1h-1zM221 521h1v1h-1zM222 520h1v1h-1zM223 520h1v1h-1zM224 519h1v1h-1zM225 519h1v1h-1zM226 518h1v1h-1zM227 518h1v1h-1zM228 518h1v1h-1zM229 517h1v1h-1zM230 517h1v1h-1zM231 516h1v1h-1zM232 515h1v1h-1zM233 515h1v1h-1zM234 514h1v1h-1zM235 514h1v1h-1zM236 513h1v1h-1zM237 513h1v1h-1zM238 512h1v1h-1zM239 512h1v1h-1zM240 511h1v1h-1zM241 511h1v1h-1zM242 510h1v1h-1zM243 510h1v1h-1zM244 509h1v1h-1zM245 509h1v1h-1zM246 508h1v1h-1zM247 508h1v1h-1zM248 507h1v1h-1zM249 507h1v1h-1zM250 507h1v1h-1zM251 507h1v1h-1zM252 507h1v1h-1zM253 507h1v1h-1zM254 507h1v1h-1zM255 507h1v1h-1zM256 507h1v1h-1zM257 507h1v1h-1zM258 507h1v1h-1zM259 507h1v1h-1zM260 507h1v1h-1zM261 507h1v1h-1zM262 507h1v1h-1zM263 507h1v1h-1zM264 507h1v1h-1zM265 507h1v1h-1zM266 508h1v1h-1zM267 508h1v1h-1zM268 508h1v1h-1zM269 509h1v1h-1zM270 509h1v1h-1zM271 510h1v1h-1zM272 511h1v1h-1zM273 511h1v1h-1zM274 512h1v1h-1zM275 513h1v1h-1zM276 514h1v1h-1zM277 515h1v1h-1zM278 516h1v1h-1zM279 517h1v1h-1zM280 518h1v1h-1zM281 519h1v1h-1zM282 520h1v1h-1zM283 521h1v1h-1zM284 521h1v1h-1zM285 522h1v1h-1zM286 522h1v1h-1zM287 523h1v1h-1zM288 524h1v1h-1zM289 524h1v1h-1zM290 525h1v1h-1zM291 525h1v1h-1zM292 526h1v1h-1zM293 527h1v1h-1zM294 527h1v1h-1zM295 528h1v1h-1zM296 528h1v1h-1zM297 529h1v1h-1zM298 530h1v1h-1zM299 530h1v1h-1zM300 531h1v1h-1zM301 531h1v1h-1zM302 532h1v1h-1zM303 532h1v1h-1zM304 532h1v1h-1zM305 533h1v1h-1zM306 533h1v1h-1zM307 533h1v1h-1zM308 534h1v1h-1zM309 534h1v1h-1zM310 534h1v1h-1zM311 534h1v1h-1zM312 534h1v1h-1zM313 534h1v1h-1zM314 534h1v1h-1zM315 534h1v1h-1zM316 534h1v1h-1zM317 534h1v1h-1zM318 534h1v1h-1zM319 534h1v1h-1zM320 533h1v1h-1zM321 533h1v1h-1zM322 533h1v1h-1zM323 533h1v1h-1zM324 533h1v1h-1zM325 532h1v1h-1zM326 532h1v1h-1zM327 532h1v1h-1zM328 532h1v1h-1zM329 532h1v1h-1zM330 533h1v1h-1zM331 533h1v1h-1zM332 533h1v1h-1zM333 533h1v1h-1zM334 533h1v1h-1zM335 533h1v1h-1zM336 534h1v1h-1zM337 534h1v1h-1zM338 534h1v1h-1zM339 534h1v1h-1zM340 535h1v1h-1zM341 535h1v1h-1zM342 535h1v1h-1zM343 536h1v1h-1zM344 536h1v1h-1zM345 537h1v1h-1zM346 537h1v1h-1zM347 537h1v1h-1zM348 538h1v1h-1zM349 538h1v1h-1zM350 539h1v1h-1zM351 539h1v1h-1zM352 540h1v1h-1zM353 540h1v1h-1zM354 541h1v1h-1zM355 541h1v1h-1zM356 542h1v1h-1zM357 542h1v1h-1zM358 543h1v1h-1zM359 543h1v1h-1zM360 544h1v1h-1zM361 544h1v1h-1zM362 544h1v1h-1zM363 545h1v1h-1zM364 545h1v1h-1zM365 546h1v1h-1zM366 546h1v1h-1zM367 547h1v1h-1zM368 547h1v1h-1zM369 547h1v1h-1zM370 548h1v1h-1zM371 548h1v1h-1zM372 548h1v1h-1zM373 548h1v1h-1zM374 548h1v1h-1zM375 548h1v1h-1zM376 549h1v1h-1zM377 549h1v1h-1zM378 549h1v1h-1zM379 548h1v1h-1zM380 548h1v1h-1zM381 548h1v1h-1zM382 548h1v1h-1zM383 548h1v1h-1zM384 548h1v1h-1zM385 548h1v1h-1zM386 548h1v1h-1zM387 548h1v1h-1zM388 547h1v1h-1zM389 547h1v1h-1zM390 547h1v1h-1zM391 547h1v1h-1zM392 547h1v1h-1zM393 546h1v1h-1zM394 546h1v1h-1zM395 546h1v1h-1zM396 546h1v1h-1zM397 546h1v1h-1zM398 546h1v1h-1zM399 545h1v1h-1zM400 545h1v1h-1zM401 545h1v1h-1zM402 544h1v1h-1zM403 544h1v1h-1zM404 544h1v1h-1zM405 543h1v1h-1zM406 543h1v1h-1zM407 543h1v1h-1zM408 542h1v1h-1zM409 542h1v1h-1zM410 542h1v1h-1zM411 541h1v1h-1zM412 541h1v1h-1zM413 541h1v1h-1zM414 540h1v1h-1zM415 540h1v1h-1zM416 539h1v1h-1zM417 539h1v1h-1zM418 538h1v1h-1zM419 538h1v1h-1zM420 537h1v1h-1zM421 537h1v1h-1zM422 537h1v1h-1zM423 536h1v1h-1zM424 536h1v1h-1zM425 535h1v1h-1zM426 534h1v1h-1zM427 534h1v1h-1zM428 533h1v1h-1zM429 533h1v1h-1zM430 532h1v1h-1zM431 532h1v1h-1zM432 531h1v1h-1zM433 531h1v1h-1zM434 530h1v1h-1zM435 529h1v1h-1zM436 529h1v1h-1zM437 528h1v1h-1zM438 527h1v1h-1zM439 527h1v1h-1zM440 526h1v1h-1zM441 525h1v1h-1zM442 525h1v1h-1zM443 524h1v1h-1zM444 524h1v1h-1zM445 523h1v1h-1zM446 523h1v1h-1zM447 523h1v1h-1zM448 522h1v1h-1zM449 522h1v1h-1zM450 521h1v1h-1zM451 521h1v1h-1zM452 521h1v1h-1zM453 521h1v1h-1zM454 520h1v1h-1zM455 520h1v1h-1zM456 520h1v1h-1zM457 519h1v1h-1zM458 519h1v1h-1zM459 519h1v1h-1zM460 519h1v1h-1zM461 519h1v1h-1zM462 519h1v1h-1zM463 519h1v1h-1zM464 519h1v1h-1zM465 519h1v1h-1zM466 519h1v1h-1zM467 519h1v1h-1zM468 519h1v1h-1zM469 519h1v1h-1zM470 519h1v1h-1zM471 519h1v1h-1zM472 519h1v1h-1zM473 519h1v1h-1zM474 519h1v1h-1zM475 519h1v1h-1zM476 519h1v1h-1zM477 519h1v1h-1zM478 519h1v1h-1zM479 519h1v1h-1zM480 520h1v1h-1zM481 520h1v1h-1zM482 520h1v1h-1zM483 520h1v1h-1zM484 521h1v1h-1zM485 521h1v1h-1zM486 521h1v1h-1zM487 521h1v1h-1zM488 521h1v1h-1zM489 521h1v1h-1zM490 521h1v1h-1zM491 521h1v1h-1zM492 521h1v1h-1zM493 521h1v1h-1zM494 520h1v1h-1zM495 520h1v1h-1zM496 520h1v1h-1zM497 520h1v1h-1zM498 519h1v1h-1zM499 519h1v1h-1zM500 519h1v1h-1zM501 519h1v1h-1zM502 519h1v1h-1zM503 519h1v1h-1zM504 518h1v1h-1zM505 518h1v1h-1zM506 518h1v1h-1zM507 518h1v1h-1zM508 518h1v1h-1zM509 518h1v1h-1zM510 518h1v1h-1zM511 518h1v1h-1zM512 518h1v1h-1zM513 517h1v1h-1zM514 517h1v1h-1zM515 517h1v1h-1zM516 517h1v1h-1zM517 517h1v1h-1zM518 517h1v1h-1zM519 517h1v1h-1zM520 517h1v1h-1zM521 517h1v1h-1zM522 517h1v1h-1zM523 517h1v1h-1zM524 518h1v1h-1zM525 518h1v1h-1zM526 518h1v1h-1zM527 519h1v1h-1zM528 519h1v1h-1zM529 519h1v1h-1zM530 520h1v1h-1zM531 520h1v1h-1zM532 520h1v1h-1zM533 520h1v1h-1zM534 521h1v1h-1zM535 521h1v1h-1zM536 521h1v1h-1zM537 522h1v1h-1zM538 522h1v1h-1zM539 522h1v1h-1zM540 523h1v1h-1zM541 523h1v1h-1zM542 523h1v1h-1zM543 524h1v1h-1zM544 524h1v1h-1zM545 524h1v1h-1zM546 524h1v1h-1zM547 525h1v1h-1zM548 525h1v1h-1zM549 525h1v1h-1zM550 525h1v1h-1zM551 526h1v1h-1zM552 526h1v1h-1zM553 526h1v1h-1zM554 526h1v1h-1zM555 526h1v1h-1zM556 527h1v1h-1zM557 527h1v1h-1zM558 527h1v1h-1zM559 527h1v1h-1zM560 527h1v1h-1zM561 528h1v1h-1zM562 528h1v1h-1zM563 529h1v1h-1zM564 529h1v1h-1zM565 530h1v1h-1zM566 530h1v1h-1zM567 530h1v1h-1zM568 530h1v1h-1zM569 531h1v1h-1zM570 531h1v1h-1zM571 531h1v1h-1zM572 531h1v1h-1zM573 531h1v1h-1zM574 531h1v1h-1zM575 531h1v1h-1zM576 531h1v1h-1zM577 532h1v1h-1zM578 532h1v1h-1zM579 532h1v1h-1zM580 532h1v1h-1zM581 533h1v1h-1zM582 533h1v1h-1zM583 533h1v1h-1zM584 533h1v1h-1zM585 533h1v1h-1zM586 534h1v1h-1zM587 534h1v1h-1zM588 534h1v1h-1zM589 534h1v1h-1zM590 534h1v1h-1zM591 534h1v1h-1zM592 534h1v1h-1zM593 534h1v1h-1zM594 534h1v1h-1zM595 534h1v1h-1zM596 533h1v1h-1zM597 533h1v1h-1zM598 533h1v1h-1zM599 533h1v1h-1zM600 532h1v1h-1zM601 532h1v1h-1zM602 532h1v1h-1zM603 532h1v1h-1zM604 532h1v1h-1zM605 532h1v1h-1zM606 532h1v1h-1zM607 532h1v1h-1zM608 532h1v1h-1zM609 532h1v1h-1zM610 532h1v1h-1zM611 532h1v1h-1zM612 533h1v1h-1zM613 533h1v1h-1zM614 533h1v1h-1zM615 533h1v1h-1zM616 534h1v1h-1zM617 534h1v1h-1zM618 534h1v1h-1zM619 534h1v1h-1zM620 534h1v1h-1zM621 534h1v1h-1zM622 534h1v1h-1zM623 534h1v1h-1zM624 534h1v1h-1zM625 534h1v1h-1zM626 534h1v1h-1zM627 535h1v1h-1zM628 535h1v1h-1zM629 535h1v1h-1zM630 536h1v1h-1zM631 536h1v1h-1zM632 537h1v1h-1zM633 537h1v1h-1zM634 538h1v1h-1zM635 539h1v1h-1zM636 539h1v1h-1zM637 540h1v1h-1zM638 541h1v1h-1zM639 541h1v1h-1zM640 542h1v1h-1zM641 543h1v1h-1zM642 543h1v1h-1zM643 544h1v1h-1zM644 545h1v1h-1zM645 546h1v1h-1zM646 546h1v1h-1zM647 547h1v1h-1zM648 548h1v1h-1zM649 548h1v1h-1zM650 549h1v1h-1zM651 549h1v1h-1zM652 550h1v1h-1zM653 550h1v1h-1zM654 551h1v1h-1zM655 551h1v1h-1zM656 552h1v1h-1zM657 552h1v1h-1zM658 552h1v1h-1zM659 553h1v1h-1zM660 553h1v1h-1zM661 554h1v1h-1zM662 554h1v1h-1zM663 555h1v1h-1zM664 555h1v1h-1zM665 555h1v1h-1zM666 555h1v1h-1zM667 555h1v1h-1zM668 556h1v1h-1zM669 556h1v1h-1zM670 556h1v1h-1zM671 556h1v1h-1zM672 556h1v1h-1zM673 556h1v1h-1zM674 556h1v1h-1zM675 556h1v1h-1zM676 556h1v1h-1zM677 556h1v1h-1zM678 556h1v1h-1zM679 556h1v1h-1zM680 556h1v1h-1zM681 556h1v1h-1zM682 556h1v1h-1zM683 556h1v1h-1zM684 556h1v1h-1zM685 556h1v1h-1zM686 556h1v1h-1zM687 556h1v1h-1zM688 556h1v1h-1zM689 556h1v1h-1zM690 556h1v1h-1zM691 556h1v1h-1zM692 556h1v1h-1zM693 556h1v1h-1zM694 556h1v1h-1zM695 556h1v1h-1zM696 556h1v1h-1zM697 556h1v1h-1zM698 556h1v1h-1zM699 556h1v1h-1zM700 557h1v1h-1zM701 557h1v1h-1zM702 557h1v1h-1zM703 557h1v1h-1zM704 557h1v1h-1zM705 557h1v1h-1zM706 557h1v1h-1zM707 557h1v1h-1zM708 557h1v1h-1zM709 557h1v1h-1zM710 557h1v1h-1zM711 557h1v1h-1zM712 556h1v1h-1zM713 556h1v1h-1zM714 556h1v1h-1zM715 556h1v1h-1zM716 555h1v1h-1zM717 555h1v1h-1zM718 555h1v1h-1zM719 555h1v1h-1zM720 555h1v1h-1zM721 555h1v1h-1zM722 555h1v1h-1zM723 555h1v1h-1zM724 555h1v1h-1zM725 555h1v1h-1zM726 555h1v1h-1zM727 555h1v1h-1zM728 555h1v1h-1zM729 555h1v1h-1zM730 555h1v1h-1zM731 555h1v1h-1zM732 555h1v1h-1zM733 555h1v1h-1zM734 555h1v1h-1zM735 555h1v1h-1zM736 555h1v1h-1zM737 555h1v1h-1zM738 555h1v1h-1zM739 555h1v1h-1zM740 556h1v1h-1zM741 556h1v1h-1zM742 556h1v1h-1zM743 557h1v1h-1zM744 557h1v1h-1zM745 557h1v1h-1zM746 557h1v1h-1zM747 558h1v1h-1zM748 558h1v1h-1zM749 558h1v1h-1zM750 558h1v1h-1zM751 559h1v1h-1zM752 559h1v1h-1zM753 559h1v1h-1zM754 559h1v1h-1zM755 559h1v1h-1zM756 559h1v1h-1zM757 559h1v1h-1zM758 560h1v1h-1zM759 560h1v1h-1zM760 560h1v1h-1zM761 560h1v1h-1zM762 560h1v1h-1zM763 560h1v1h-1zM764 560h1v1h-1zM765 560h1v1h-1zM766 560h1v1h-1zM767 560h1v1h-1zM768 560h1v1h-1zM769 560h1v1h-1zM770 560h1v1h-1zM771 560h1v1h-1zM772 560h1v1h-1zM773 559h1v1h-1zM774 559h1v1h-1zM775 559h1v1h-1zM776 559h1v1h-1zM777 558h1v1h-1zM778 558h1v1h-1zM779 558h1v1h-1zM780 558h1v1h-1zM781 558h1v1h-1zM782 557h1v1h-1zM783 557h1v1h-1zM784 557h1v1h-1zM785 557h1v1h-1zM786 556h1v1h-1zM787 556h1v1h-1zM788 556h1v1h-1zM789 556h1v1h-1zM790 555h1v1h-1zM791 555h1v1h-1zM792 555h1v1h-1zM793 554h1v1h-1zM794 554h1v1h-1zM795 553h1v1h-1zM796 553h1v1h-1zM797 553h1v1h-1zM798 552h1v1h-1zM799 552h1v1h-1zM800 552h1v1h-1zM801 551h1v1h-1zM802 551h1v1h-1zM803 551h1v1h-1zM804 551h1v1h-1zM805 550h1v1h-1zM806 550h1v1h-1zM807 550h1v1h-1zM808 550h1v1h-1zM809 550h1v1h-1zM810 549h1v1h-1zM811 549h1v1h-1zM812 549h1v1h-1zM813 549h1v1h-1zM814 548h1v1h-1zM815 548h1v1h-1zM816 548h1v1h-1zM817 548h1v1h-1zM818 547h1v1h-1zM819 547h1v1h-1zM820 547h1v1h-1zM821 547h1v1h-1zM822 546h1v1h-1zM823 546h1v1h-1zM824 546h1v1h-1zM825 546h1v1h-1zM826 545h1v1h-1zM827 545h1v1h-1zM828 545h1v1h-1zM829 544h1v1h-1zM830 544h1v1h-1zM831 544h1v1h-1zM832 544h1v1h-1zM833 544h1v1h-1zM834 544h1v1h-1zM835 544h1v1h-1zM836 544h1v1h-1zM837 544h1v1h-1zM838 544h1v1h-1zM839 544h1v1h-1zM840 544h1v1h-1zM841 544h1v1h-1zM842 544h1v1h-1zM843 545h1v1h-1zM844 545h1v1h-1zM845 546h1v1h-1zM846 546h1v1h-1zM847 547h1v1h-1zM848 547h1v1h-1zM849 547h1v1h-1zM850 548h1v1h-1zM851 548h1v1h-1zM852 549h1v1h-1zM853 549h1v1h-1zM854 550h1v1h-1zM855 550h1v1h-1zM856 551h1v1h-1zM857 551h1v1h-1zM858 552h1v1h-1zM859 552h1v1h-1zM860 552h1v1h-1zM861 553h1v1h-1zM862 553h1v1h-1zM863 554h1v1h-1zM864 554h1v1h-1zM865 554h1v1h-1zM866 555h1v1h-1zM867 555h1v1h-1zM868 556h1v1h-1zM869 556h1v1h-1zM870 556h1v1h-1zM871 557h1v1h-1zM872 557h1v1h-1zM873 557h1v1h-1zM874 557h1v1h-1zM875 556h1v1h-1zM876 556h1v1h-1zM877 556h1v1h-1zM878 556h1v1h-1zM879 556h1v1h-1zM880 555h1v1h-1zM881 555h1v1h-1zM882 555h1v1h-1zM883 554h1v1h-1zM884 554h1v1h-1zM885 553h1v1h-1zM886 553h1v1h-1zM887 552h1v1h-1zM888 551h1v1h-1zM889 550h1v1h-1zM890 550h1v1h-1zM891 549h1v1h-1zM892 548h1v1h-1zM893 547h1v1h-1zM894 546h1v1h-1zM895 545h1v1h-1zM896 544h1v1h-1zM897 543h1v1h-1zM898 542h1v1h-1zM899 541h1v1h-1zM900 540h1v1h-1zM901 539h1v1h-1zM902 538h1v1h-1zM903 537h1v1h-1zM904 536h1v1h-1zM905 535h1v1h-1zM906 534h1v1h-1zM907 533h1v1h-1zM908 532h1v1h-1zM909 531h1v1h-1zM910 530h1v1h-1zM911 530h1v1h-1zM912 529h1v1h-1zM913 529h1v1h-1zM914 528h1v1h-1zM915 527h1v1h-1zM916 527h1v1h-1zM917 526h1v1h-1zM918 525h1v1h-1zM919 525h1v1h-1zM920 524h1v1h-1zM921 523h1v1h-1zM922 522h1v1h-1zM923 522h1v1h-1zM924 521h1v1h-1z"/>
<path d="M5 596.5H1166M5 630.5H1166" stroke="#c0c0c0" stroke-width="1" stroke-dasharray="3 3" shape-rendering="crispEdges" fill="none"/>
<path fill="#1e90ff" shape-rendering="crispEdges" d="M5 593h1v1h-1zM6 592h1v1h-1zM7 592h1v1h-1zM8 591h1v1h-1zM9 590h1v1h-1zM10 589h1v1h-1zM11 589h1v1h-1zM12 588h1v1h-1zM13 588h1v1h-1zM14 589h1v1h-1zM15 589h1v1h-1zM16 589h1v1h-1zM17 589h1v1h-1zM18 590h1v1h-1zM19 590h1v1h-1zM20 591h1v2h-1zM21 593h1v2h-1zM22 595h1v2h-1zM23 597h1v2h-1zM24 599h1v2h-1zM25 601h1v1h-1zM26 602h1v2h-1zM27 604h1v1h-1zM28 605h1v1h-1zM29 604h1v1h-1zM30 603h1v1h-1zM31 602h1v1h-1zM32 601h1v1h-1zM33 600h1v1h-1zM34 600h1v1h-1zM35 600h1v1h-1zM36 600h1v1h-1zM37 600h1v1h-1zM38 600h1v1h-1zM39 600h1v1h-1zM40 601h1v1h-1zM41 601h1v1h-1zM42 602h1v1h-1zM43 603h1v1h-1zM44 603h1v1h-1zM45 603h1v1h-1zM46 602h1v1h-1zM47 601h1v1h-1zM48 600h1v1h-1zM49 599h1v1h-1zM50 598h1v1h-1zM51 597h1v1h-1zM52 596h1v1h-1zM53 595h1v1h-1zM54 594h1v1h-1zM55 593h1v1h-1zM56 593h1v1h-1zM57 594h1v1h-1zM58 595h1v1h-1zM59 595h1v1h-1zM60 596h1v1h-1zM61 596h1v1h-1zM62 597h1v1h-1zM63 597h1v1h-1zM64 598h1v1h-1zM65 597h1v1h-1zM66 597h1v1h-1zM67 596h1v1h-1zM68 595h1v1h-1zM69 595h1v1h-1zM70 594h1v1h-1zM71 593h1v1h-1zM72 593h1v1h-1zM73 594h1v1h-1zM74 594h1v1h-1zM75 595h1v1h-1zM76 595h1v1h-1zM77 595h1v1h-1zM78 595h1v1h-1zM79 594h1v1h-1zM80 594h1v1h-1zM81 595h1v1h-1zM82 596h1v1h-1zM83 597h1v2h-1zM84 599h1v2h-1zM85 601h1v2h-1zM86 603h1v2h-1zM87 605h1v1h-1zM88 605h1v1h-1zM89 605h1v1h-1zM90 604h1v1h-1zM91 603h1v1h-1zM92 603h1v1h-1zM93 602h1v1h-1zM94 602h1v1h-1zM95 602h1v1h-1zM96 601h1v1h-1zM97 601h1v1h-1zM98 600h1v1h-1zM99 600h1v2h-1zM100 602h1v1h-1zM101 603h1v2h-1zM102 605h1v1h-1zM103 606h1v1h-1zM104 607h1v1h-1zM105 607h1v1h-1zM106 607h1v1h-1zM107 607h1v1h-1zM108 607h1v1h-1zM109 608h1v1h-1zM110 608h1v1h-1zM111 609h1v1h-1zM112 610h1v1h-1zM113 610h1v1h-1zM114 609h1v1h-1zM115 608h1v1h-1zM116 607h1v1h-1zM117 607h1v1h-1zM118 606h1v1h-1zM119 605h1v1h-1zM120 605h1v1h-1zM121 604h1v1h-1zM122 604h1v1h-1zM123 603h1v1h-1zM124 603h1v1h-1zM125 604h1v2h-1zM126 606h1v1h-1zM127 607h1v1h-1zM128 608h1v1h-1zM129 608h1v1h-1zM130 608h1v1h-1zM131 609h1v1h-1zM132 609h1v1h-1zM133 609h1v1h-1zM134 610h1v1h-1zM135 610h1v1h-1zM136 609h1v1h-1zM137 608h1v1h-1zM138 608h1v1h-1zM139 607h1v1h-1zM140 606h1v2h-1zM141 608h1v2h-1zM142 610h1v2h-1zM143 612h1v1h-1zM144 613h1v1h-1zM145 614h1v1h-1zM146 614h1v1h-1zM147 614h1v1h-1zM148 615h1v1h-1zM149 615h1v1h-1zM150 614h1v1h-1zM151 614h1v1h-1zM152 614h1v1h-1zM153 615h1v1h-1zM154 616h1v1h-1zM155 616h1v1h-1zM156 617h1v1h-1zM157 618h1v1h-1zM158 619h1v1h-1zM159 619h1v1h-1zM160 620h1v1h-1zM161 621h1v1h-1zM162 622h1v1h-1zM163 622h1v1h-1zM164 622h1v1h-1zM165 622h1v1h-1zM166 621h1v1h-1zM167 620h1v1h-1zM168 619h1v1h-1zM169 619h1v1h-1zM170 619h1v1h-1zM171 620h1v1h-1zM172 619h1v1h-1zM173 617h1v2h-1zM174 615h1v2h-1zM175 614h1v1h-1zM176 613h1v1h-1zM177 612h1v1h-1zM178 612h1v1h-1zM179 611h1v1h-1zM180 611h1v1h-1zM181 610h1v1h-1zM182 609h1v1h-1zM183 609h1v1h-1zM184 608h1v1h-1zM185 607h1v1h-1zM186 607h1v1h-1zM187 607h1v1h-1zM188 607h1v1h-1zM189 606h1v1h-1zM190 606h1v1h-1zM191 606h1v1h-1zM192 606h1v1h-1zM193 605h1v1h-1zM194 605h1v1h-1zM195 604h1v1h-1zM196 604h1v1h-1zM197 603h1v1h-1zM198 604h1v1h-1zM199 604h1v1h-1zM200 605h1v1h-1zM201 605h1v1h-1zM202 604h1v1h-1zM203 604h1v1h-1zM204 604h1v1h-1zM205 604h1v1h-1zM206 603h1v1h-1zM207 603h1v1h-1zM208 603h1v1h-1zM209 602h1v1h-1zM210 602h1v1h-1zM211 603h1v1h-1zM212 604h1v1h-1zM213 605h1v1h-1zM214 606h1v1h-1zM215 607h1v1h-1zM216 608h1v1h-1zM217 609h1v1h-1zM218 608h1v1h-1zM219 608h1v1h-1zM220 606h1v2h-1zM221 604h1v2h-1zM222 602h1v2h-1zM223 600h1v2h-1zM224 598h1v2h-1zM225 597h1v1h-1zM226 597h1v1h-1zM227 596h1v1h-1zM228 596h1v1h-1zM229 596h1v1h-1zM230 595h1v1h-1zM231 595h1v1h-1zM232 595h1v1h-1zM233 595h1v1h-1zM234 595h1v1h-1zM235 595h1v1h-1zM236 594h1v1h-1zM237 594h1v1h-1zM238 594h1v1h-1zM239 594h1v1h-1zM240 593h1v1h-1zM241 593h1v1h-1zM242 592h1v1h-1zM243 592h1v2h-1zM244 594h1v6h-1zM245 600h1v6h-1zM246 606h1v4h-1zM247 610h1v4h-1zM248 614h1v2h-1zM249 616h1v1h-1zM250 617h1v1h-1zM251 617h1v1h-1zM252 617h1v1h-1zM253 616h1v1h-1zM254 615h1v1h-1zM255 614h1v1h-1zM256 613h1v1h-1zM257 612h1v1h-1zM258 611h1v1h-1zM259 611h1v1h-1zM260 611h1v1h-1zM261 611h1v1h-1zM262 611h1v1h-1zM263 611h1v1h-1zM264 611h1v1h-1zM265 611h1v1h-1zM266 611h1v1h-1zM267 611h1v1h-1zM268 612h1v2h-1zM269 614h1v3h-1zM270 617h1v3h-1zM271 620h1v1h-1zM272 621h1v1h-1zM273 620h1v1h-1zM274 620h1v1h-1zM275 619h1v1h-1zM276 619h1v1h-1zM277 619h1v1h-1zM278 620h1v1h-1zM279 620h1v1h-1zM280 619h1v1h-1zM281 619h1v1h-1zM282 618h1v1h-1zM283 618h1v1h-1zM284 617h1v1h-1zM285 617h1v1h-1zM286 616h1v1h-1zM287 615h1v1h-1zM288 615h1v1h-1zM289 614h1v1h-1zM290 613h1v1h-1zM291 613h1v1h-1zM292 612h1v1h-1zM293 612h1v1h-1zM294 612h1v1h-1zM295 613h1v1h-1zM296 613h1v1h-1zM297 612h1v1h-1zM298 612h1v1h-1zM299 612h1v1h-1zM300 612h1v1h-1zM301 613h1v1h-1zM302 613h1v1h-1zM303 614h1v1h-1zM304 614h1v1h-1zM305 614h1v1h-1zM306 614h1v1h-1zM307 613h1v1h-1zM308 613h1v1h-1zM309 614h1v1h-1zM310 615h1v1h-1zM311 616h1v1h-1zM312 615h1v2h-1zM313 614h1v1h-1zM314 612h1v2h-1zM315 610h1v2h-1zM316 609h1v1h-1zM317 610h1v1h-1zM318 611h1v1h-1zM319 612h1v1h-1zM320 612h1v1h-1zM321 613h1v1h-1zM322 613h1v1h-1zM323 613h1v1h-1zM324 613h1v1h-1zM325 613h1v1h-1zM326 613h1v1h-1zM327 613h1v1h-1zM328 613h1v1h-1zM329 614h1v1h-1zM330 615h1v1h-1zM331 616h1v2h-1zM332 618h1v1h-1zM333 619h1v1h-1zM334 620h1v1h-1zM335 621h1v1h-1zM336 622h1v1h-1zM337 623h1v1h-1zM338 624h1v1h-1zM339 625h1v1h-1zM340 625h1v1h-1zM341 623h1v2h-1zM342 622h1v1h-1zM343 621h1v1h-1zM344 620h1v1h-1zM345 621h1v1h-1zM346 621h1v1h-1zM347 621h1v1h-1zM348 621h1v1h-1zM349 620h1v1h-1zM350 620h1v1h-1zM351 619h1v1h-1zM352 619h1v1h-1zM353 619h1v1h-1zM354 620h1v1h-1zM355 620h1v1h-1zM356 621h1v1h-1zM357 621h1v1h-1zM358 621h1v1h-1zM359 621h1v1h-1zM360 621h1v1h-1zM361 621h1v1h-1zM362 621h1v1h-1zM363 621h1v1h-1zM364 621h1v1h-1zM365 621h1v1h-1zM366 620h1v1h-1zM367 620h1v1h-1zM368 620h1v1h-1zM369 620h1v1h-1zM370 620h1v1h-1zM371 621h1v1h-1zM372 620h1v2h-1zM373 619h1v1h-1zM374 617h1v2h-1zM375 616h1v1h-1zM376 615h1v1h-1zM377 615h1v1h-1zM378 614h1v1h-1zM379 614h1v1h-1zM380 614h1v1h-1zM381 615h1v1h-1zM382 616h1v1h-1zM383 617h1v1h-1zM384 618h1v1h-1zM385 617h1v1h-1zM386 617h1v1h-1zM387 616h1v1h-1zM388 616h1v1h-1zM389 616h1v1h-1zM390 616h1v1h-1zM391 617h1v1h-1zM392 617h1v1h-1zM393 617h1v1h-1zM394 617h1v1h-1zM395 618h1v1h-1zM396 618h1v1h-1zM397 618h1v1h-1zM398 618h1v1h-1zM399 618h1v1h-1zM400 618h1v1h-1zM401 618h1v1h-1zM402 617h1v1h-1zM403 617h1v1h-1zM404 615h1v2h-1zM405 612h1v3h-1zM406 609h1v3h-1zM407 606h1v3h-1zM408 605h1v1h-1zM409 605h1v1h-1zM410 604h1v1h-1zM411 604h1v1h-1zM412 604h1v1h-1zM413 604h1v1h-1zM414 605h1v1h-1zM415 605h1v1h-1zM416 606h1v1h-1zM417 606h1v1h-1zM418 606h1v1h-1zM419 606h1v1h-1zM420 606h1v1h-1zM421 605h1v1h-1zM422 604h1v1h-1zM423 603h1v1h-1zM424 603h1v1h-1zM425 604h1v1h-1zM426 605h1v1h-1zM427 605h1v1h-1zM428 606h1v1h-1zM429 605h1v1h-1zM430 605h1v1h-1zM431 604h1v1h-1zM432 604h1v1h-1zM433 605h1v2h-1zM434 607h1v1h-1zM435 608h1v1h-1zM436 609h1v1h-1zM437 608h1v1h-1zM438 608h1v1h-1zM439 607h1v1h-1zM440 607h1v1h-1zM441 606h1v1h-1zM442 606h1v1h-1zM443 605h1v1h-1zM444 605h1v1h-1zM445 604h1v1h-1zM446 603h1v1h-1zM447 602h1v1h-1zM448 601h1v1h-1zM449 602h1v1h-1zM450 603h1v1h-1zM451 604h1v1h-1zM452 605h1v1h-1zM453 605h1v1h-1zM454 605h1v1h-1zM455 605h1v1h-1zM456 606h1v1h-1zM457 606h1v1h-1zM458 606h1v1h-1zM459 606h1v1h-1zM460 607h1v1h-1zM461 608h1v2h-1zM462 610h1v2h-1zM463 612h1v2h-1zM464 614h1v1h-1zM465 614h1v1h-1zM466 614h1v1h-1zM467 615h1v1h-1zM468 614h1v1h-1zM469 612h1v2h-1zM470 610h1v2h-1zM471 609h1v1h-1zM472 608h1v3h-1zM473 611h1v2h-1zM474 613h1v2h-1zM475 615h1v1h-1zM476 616h1v1h-1zM477 614h1v2h-1zM478 612h1v2h-1zM479 611h1v1h-1zM480 610h1v1h-1zM481 609h1v1h-1zM482 609h1v1h-1zM483 608h1v1h-1zM484 607h1v2h-1zM485 605h1v2h-1zM486 603h1v2h-1zM487 602h1v1h-1zM488 601h1v1h-1zM489 601h1v1h-1zM490 602h1v1h-1zM491 602h1v1h-1zM492 603h1v1h-1zM493 602h1v1h-1zM494 602h1v1h-1zM495 601h1v1h-1zM496 601h1v1h-1zM497 602h1v1h-1zM498 602h1v1h-1zM499 603h1v1h-1zM500 604h1v3h-1zM501 607h1v3h-1zM502 610h1v3h-1zM503 613h1v2h-1zM504 615h1v1h-1zM505 615h1v1h-1zM506 616h1v1h-1zM507 616h1v1h-1zM508 615h1v2h-1zM509 614h1v1h-1zM510 613h1v1h-1zM511 612h1v1h-1zM512 611h1v1h-1zM513 611h1v1h-1zM514 610h1v1h-1zM515 610h1v1h-1zM516 610h1v1h-1zM517 611h1v1h-1zM518 611h1v1h-1zM519 611h1v1h-1zM520 612h1v1h-1zM521 611h1v1h-1zM522 611h1v1h-1zM523 611h1v1h-1zM524 611h1v1h-1zM525 612h1v1h-1zM526 613h1v1h-1zM527 613h1v1h-1zM528 613h1v1h-1zM529 613h1v1h-1zM530 612h1v1h-1zM531 612h1v1h-1zM532 611h1v1h-1zM533 612h1v1h-1zM534 613h1v1h-1zM535 614h1v1h-1zM536 615h1v1h-1zM537 616h1v1h-1zM538 616h1v1h-1zM539 616h1v1h-1zM540 616h1v1h-1zM541 616h1v1h-1zM542 615h1v1h-1zM543 615h1v1h-1zM544 615h1v1h-1zM545 615h1v1h-1zM546 615h1v1h-1zM547 615h1v1h-1zM548 615h1v1h-1zM549 615h1v1h-1zM550 614h1v1h-1zM551 614h1v1h-1zM552 614h1v1h-1zM553 614h1v1h-1zM554 614h1v1h-1zM555 615h1v1h-1zM556 615h1v1h-1zM557 616h1v1h-1zM558 617h1v1h-1zM559 618h1v1h-1zM560 619h1v1h-1zM561 619h1v1h-1zM562 618h1v1h-1zM563 618h1v1h-1zM564 618h1v1h-1zM565 617h1v1h-1zM566 616h1v1h-1zM567 615h1v1h-1zM568 614h1v1h-1zM569 614h1v1h-1zM570 613h1v1h-1zM571 612h1v1h-1zM572 611h1v1h-1zM573 611h1v1h-1zM574 611h1v1h-1zM575 611h1v2h-1zM576 613h1v2h-1zM577 615h1v3h-1zM578 618h1v3h-1zM579 621h1v1h-1zM580 621h1v2h-1zM581 619h1v2h-1zM582 617h1v2h-1zM583 614h1v3h-1zM584 613h1v1h-1zM585 613h1v1h-1zM586 613h1v1h-1zM587 612h1v1h-1zM588 612h1v1h-1zM589 612h1v1h-1zM590 611h1v1h-1zM591 611h1v1h-1zM592 611h1v1h-1zM593 611h1v1h-1zM594 612h1v1h-1zM595 612h1v1h-1zM596 613h1v1h-1zM597 613h1v1h-1zM598 613h1v1h-1zM599 613h1v1h-1zM600 614h1v1h-1zM601 613h1v1h-1zM602 613h1v1h-1zM603 612h1v1h-1zM604 612h1v1h-1zM605 613h1v2h-1zM606 615h1v1h-1zM607 616h1v2h-1zM608 618h1v1h-1zM609 618h1v1h-1zM610 617h1v1h-1zM611 617h1v1h-1zM612 617h1v1h-1zM613 616h1v1h-1zM614 616h1v1h-1zM615 615h1v1h-1zM616 615h1v1h-1zM617 616h1v1h-1zM618 617h1v1h-1zM619 618h1v1h-1zM620 619h1v1h-1zM621 618h1v1h-1zM622 617h1v1h-1zM623 616h1v1h-1zM624 615h1v3h-1zM625 618h1v3h-1zM626 621h1v3h-1zM627 624h1v2h-1zM628 626h1v1h-1zM629 627h1v1h-1zM630 628h1v1h-1zM631 629h1v1h-1zM632 630h1v1h-1zM633 630h1v1h-1zM634 630h1v1h-1zM635 630h1v1h-1zM636 630h1v1h-1zM637 629h1v1h-1zM638 628h1v1h-1zM639 628h1v1h-1zM640 627h1v1h-1zM641 627h1v1h-1zM642 627h1v1h-1zM643 627h1v1h-1zM644 626h1v2h-1zM645 625h1v1h-1zM646 623h1v2h-1zM647 621h1v2h-1zM648 620h1v1h-1zM649 621h1v1h-1zM650 621h1v1h-1zM651 621h1v1h-1zM652 621h1v1h-1zM653 620h1v1h-1zM654 620h1v1h-1zM655 619h1v1h-1zM656 618h1v1h-1zM657 618h1v1h-1zM658 618h1v1h-1zM659 618h1v1h-1zM660 619h1v1h-1zM661 619h1v1h-1zM662 619h1v1h-1zM663 620h1v1h-1zM664 620h1v1h-1zM665 621h1v1h-1zM666 622h1v1h-1zM667 623h1v2h-1zM668 625h1v1h-1zM669 625h1v1h-1zM670 625h1v1h-1zM671 626h1v1h-1zM672 626h1v1h-1zM673 626h1v1h-1zM674 627h1v1h-1zM675 627h1v1h-1zM676 628h1v1h-1zM677 627h1v1h-1zM678 626h1v1h-1zM679 625h1v1h-1zM680 624h1v1h-1zM681 623h1v1h-1zM682 622h1v1h-1zM683 621h1v1h-1zM684 620h1v1h-1zM685 620h1v1h-1zM686 620h1v1h-1zM687 620h1v1h-1zM688 620h1v1h-1zM689 621h1v1h-1zM690 621h1v1h-1zM691 622h1v1h-1zM692 623h1v1h-1zM693 623h1v1h-1zM694 623h1v1h-1zM695 623h1v1h-1zM696 624h1v1h-1zM697 625h1v1h-1zM698 626h1v1h-1zM699 627h1v1h-1zM700 627h1v2h-1zM701 626h1v1h-1zM702 624h1v2h-1zM703 623h1v1h-1zM704 622h1v1h-1zM705 622h1v1h-1zM706 621h1v1h-1zM707 621h1v1h-1zM708 621h1v1h-1zM709 621h1v1h-1zM710 621h1v1h-1zM711 621h1v1h-1zM712 621h1v1h-1zM713 621h1v1h-1zM714 621h1v1h-1zM715 621h1v1h-1zM716 622h1v1h-1zM717 622h1v1h-1zM718 622h1v1h-1zM719 623h1v1h-1zM720 623h1v1h-1zM721 624h1v1h-1zM722 625h1v1h-1zM723 625h1v1h-1zM724 626h1v1h-1zM725 627h1v1h-1zM726 627h1v1h-1zM727 627h1v1h-1zM728 628h1v1h-1zM729 628h1v1h-1zM730 628h1v1h-1zM731 629h1v1h-1zM732 629h1v1h-1zM733 630h1v1h-1zM734 631h1v1h-1zM735 632h1v1h-1zM736 633h1v1h-1zM737 633h1v1h-1zM738 634h1v1h-1zM739 634h1v1h-1zM740 633h1v2h-1zM741 632h1v1h-1zM742 631h1v1h-1zM743 630h1v1h-1zM744 629h1v1h-1zM745 628h1v1h-1zM746 628h1v1h-1zM747 627h1v1h-1zM748 627h1v1h-1zM749 627h1v1h-1zM750 627h1v1h-1zM751 627h1v1h-1zM752 627h1v1h-1zM753 627h1v1h-1zM754 627h1v1h-1zM755 627h1v1h-1zM756 626h1v1h-1zM757 625h1v1h-1zM758 625h1v1h-1zM759 624h1v1h-1zM760 623h1v1h-1zM761 623h1v1h-1zM762 624h1v1h-1zM763 624h1v1h-1zM764 625h1v1h-1zM765 625h1v1h-1zM766 626h1v1h-1zM767 626h1v1h-1zM768 625h1v2h-1zM769 623h1v2h-1zM770 621h1v2h-1zM771 619h1v2h-1zM772 618h1v1h-1zM773 619h1v1h-1zM774 620h1v2h-1zM775 622h1v1h-1zM776 622h1v1h-1zM777 623h1v1h-1zM778 624h1v1h-1zM779 624h1v1h-1zM780 624h1v1h-1zM781 623h1v1h-1zM782 621h1v2h-1zM783 620h1v1h-1zM784 619h1v1h-1zM785 619h1v1h-1zM786 618h1v1h-1zM787 618h1v1h-1zM788 617h1v1h-1zM789 617h1v1h-1zM790 617h1v1h-1zM791 618h1v1h-1zM792 618h1v1h-1zM793 617h1v1h-1zM794 616h1v1h-1zM795 615h1v1h-1zM796 614h1v1h-1zM797 615h1v2h-1zM798 617h1v1h-1zM799 618h1v1h-1zM800 619h1v1h-1zM801 620h1v1h-1zM802 620h1v1h-1zM803 620h1v1h-1zM804 620h1v1h-1zM805 620h1v1h-1zM806 621h1v1h-1zM807 621h1v1h-1zM808 622h1v1h-1zM809 622h1v1h-1zM810 621h1v1h-1zM811 621h1v1h-1zM812 621h1v1h-1zM813 619h1v2h-1zM814 618h1v1h-1zM815 617h1v1h-1zM816 616h1v1h-1zM817 617h1v1h-1zM818 618h1v1h-1zM819 619h1v1h-1zM820 619h1v2h-1zM821 618h1v1h-1zM822 617h1v1h-1zM823 616h1v1h-1zM824 615h1v1h-1zM825 615h1v1h-1zM826 615h1v1h-1zM827 615h1v1h-1zM828 615h1v1h-1zM829 616h1v1h-1zM830 617h1v1h-1zM831 618h1v2h-1zM832 620h1v2h-1zM833 622h1v2h-1zM834 624h1v2h-1zM835 626h1v2h-1zM836 628h1v1h-1zM837 628h1v1h-1zM838 628h1v1h-1zM839 628h1v1h-1zM840 629h1v1h-1zM841 630h1v1h-1zM842 631h1v1h-1zM843 632h1v1h-1zM844 633h1v1h-1zM845 633h1v1h-1zM846 634h1v1h-1zM847 634h1v1h-1zM848 635h1v1h-1zM849 635h1v1h-1zM850 634h1v1h-1zM851 634h1v1h-1zM852 632h1v3h-1zM853 629h1v3h-1zM854 627h1v2h-1zM855 624h1v3h-1zM856 623h1v1h-1zM857 622h1v1h-1zM858 620h1v2h-1zM859 619h1v1h-1zM860 618h1v1h-1zM861 618h1v1h-1zM862 617h1v1h-1zM863 617h1v1h-1zM864 617h1v1h-1zM865 617h1v1h-1zM866 618h1v1h-1zM867 618h1v1h-1zM868 618h1v1h-1zM869 616h1v2h-1zM870 614h1v2h-1zM871 613h1v1h-1zM872 612h1v1h-1zM873 612h1v1h-1zM874 612h1v1h-1zM875 612h1v1h-1zM876 612h1v1h-1zM877 612h1v1h-1zM878 613h1v1h-1zM879 613h1v1h-1zM880 614h1v1h-1zM881 613h1v1h-1zM882 613h1v1h-1zM883 612h1v1h-1zM884 611h1v2h-1zM885 610h1v1h-1zM886 608h1v2h-1zM887 607h1v1h-1zM888 606h1v1h-1zM889 605h1v1h-1zM890 604h1v1h-1zM891 604h1v1h-1zM892 603h1v1h-1zM893 603h1v1h-1zM894 602h1v1h-1zM895 602h1v1h-1zM896 601h1v1h-1zM897 600h1v1h-1zM898 600h1v1h-1zM899 599h1v1h-1zM900 599h1v1h-1zM901 600h1v1h-1zM902 601h1v1h-1zM903 602h1v1h-1zM904 603h1v1h-1zM905 604h1v1h-1zM906 605h1v2h-1zM907 607h1v1h-1zM908 608h1v1h-1zM909 609h1v1h-1zM910 609h1v1h-1zM911 610h1v1h-1zM912 611h1v1h-1zM913 610h1v1h-1zM914 610h1v1h-1zM915 609h1v1h-1zM916 609h1v1h-1zM917 610h1v1h-1zM918 610h1v1h-1zM919 610h1v1h-1zM920 611h1v1h-1zM921 611h1v1h-1zM922 611h1v1h-1zM923 611h1v1h-1zM924 611h1v1h-1z"/>
<g font-family='"Liberation Sans", sans-serif'><text transform="translate(1172.3 52.8) scale(0.9 1)" fill="#000" font-size="10">0.79960</text><text transform="translate(1172.3 85.8) scale(0.9 1)" fill="#000" font-size="10">0.79260</text><text transform="translate(1172.3 118.8) scale(0.9 1)" fill="#000" font-size="10">0.78560</text><text transform="translate(1172.3 151.8) scale(0.9 1)" fill="#000" font-size="10">0.77860</text><text transform="translate(1172.3 217.8) scale(0.9 1)" fill="#000" font-size="10">0.76460</text><text transform="translate(1172.3 283.8) scale(0.9 1)" fill="#000" font-size="10">0.75060</text><text transform="translate(1172.3 316.8) scale(0.9 1)" fill="#000" font-size="10">0.74360</text><text transform="translate(1172.3 382.8) scale(0.9 1)" fill="#000" font-size="10">0.72960</text><text transform="translate(1172.3 415.8) scale(0.9 1)" fill="#000" font-size="10">0.72280</text><text transform="translate(1172.3 448.8) scale(0.9 1)" fill="#000" font-size="10">0.71580</text><text transform="translate(1170 493.8) scale(0.9 1)" fill="#000" font-size="10">0.008904</text><text transform="translate(1170 534.1) scale(0.9 1)" fill="#000" font-size="10">0.00</text><text transform="translate(1170 564.8) scale(0.9 1)" fill="#000" font-size="10">-0.007011</text><text transform="translate(1170 580.3) scale(0.9 1)" fill="#000" font-size="10">100</text><text transform="translate(1169 600.1) scale(0.9 1)" fill="#000" font-size="10">70</text><text transform="translate(1169 634.2) scale(0.9 1)" fill="#000" font-size="10">30</text><text transform="translate(1170 653) scale(0.9 1)" fill="#000" font-size="10">0</text><text transform="translate(3.5 669.2) scale(0.9 1)" fill="#000" font-size="10">15 Dec 2020</text><text transform="translate(67.5 669.2) scale(0.9 1)" fill="#000" font-size="10">5 Jan 2021</text><text transform="translate(131.5 669.2) scale(0.9 1)" fill="#000" font-size="10">23 Jan 2021</text><text transform="translate(195.5 669.2) scale(0.9 1)" fill="#000" font-size="10">11 Feb 2021</text><text transform="translate(259.5 669.2) scale(0.9 1)" fill="#000" font-size="10">2 Mar 2021</text><text transform="translate(323.5 669.2) scale(0.9 1)" fill="#000" font-size="10">20 Mar 2021</text><text transform="translate(387.5 669.2) scale(0.9 1)" fill="#000" font-size="10">8 Apr 2021</text><text transform="translate(451.5 669.2) scale(0.9 1)" fill="#000" font-size="10">27 Apr 2021</text><text transform="translate(515.5 669.2) scale(0.9 1)" fill="#000" font-size="10">15 May 2021</text><text transform="translate(579.5 669.2) scale(0.9 1)" fill="#000" font-size="10">3 Jun 2021</text><text transform="translate(643.5 669.2) scale(0.9 1)" fill="#000" font-size="10">22 Jun 2021</text><text transform="translate(707.5 669.2) scale(0.9 1)" fill="#000" font-size="10">10 Jul 2021</text><text transform="translate(771.5 669.2) scale(0.9 1)" fill="#000" font-size="10">29 Jul 2021</text><text transform="translate(835.5 669.2) scale(0.9 1)" fill="#000" font-size="10">17 Aug 2021</text><text transform="translate(899.5 669.2) scale(0.9 1)" fill="#000" font-size="10">4 Sep 2021</text></g>
<g font-family='"Liberation Sans", sans-serif'><rect x="1168" y="174" width="39" height="11" fill="#ff0000" shape-rendering="crispEdges"/><text transform="translate(1172.3 183) scale(0.9 1)" fill="#fff" font-size="10">0.77200</text><rect x="1168" y="244" width="39" height="11" fill="#ff0000" shape-rendering="crispEdges"/><text transform="translate(1172.3 253) scale(0.9 1)" fill="#fff" font-size="10">0.75716</text><rect x="1168" y="324" width="39" height="11" fill="#00ff00" shape-rendering="crispEdges"/><text transform="translate(1172.3 333) scale(0.9 1)" fill="#fff" font-size="10">0.74007</text><rect x="1168" y="343" width="39" height="11" fill="#000" shape-rendering="crispEdges"/><text transform="translate(1172.3 352) scale(0.9 1)" fill="#fff" font-size="10">0.73631</text><rect x="1168" y="400" width="39" height="11" fill="#0000ff" shape-rendering="crispEdges"/><text transform="translate(1172.3 409) scale(0.9 1)" fill="#fff" font-size="10">0.72411</text><rect x="1168" y="470" width="39" height="11" fill="#0000ff" shape-rendering="crispEdges"/><text transform="translate(1172.3 479) scale(0.9 1)" fill="#fff" font-size="10">0.70936</text><rect x="1168" y="474" width="39" height="11" fill="#ff0000" shape-rendering="crispEdges"/><text transform="translate(1172.3 483) scale(0.9 1)" fill="#fff" font-size="10">0.70820</text></g>
<g font-family='"Liberation Sans", sans-serif' font-size="9" fill="#000"><path d="M7 32.2L10.7 28.2L14.4 32.2z" fill="#000"/><text transform="translate(19.6 32.8) scale(0.97 1)" font-size="10">AUDUSD,Daily</text><text transform="translate(91 32.8) scale(0.92 1)" font-size="10">0.73654 0.73737 0.73610 0.73631</text><text transform="translate(8 495.8) scale(0.94 1)" font-size="10">MACD(12,26,9) 0.001722 0.001568</text><text transform="translate(8.3 582.1) scale(0.925 1)" font-size="10">RSI(14) 52.0068</text></g></svg>
<!-- one click trading panel -->
<div class="abs" style="left:7px;top:41px;width:52px;height:25px;background:linear-gradient(#f95252,#dc3232)"></div>
<div class="abs" style="left:175px;top:41px;width:51px;height:25px;background:linear-gradient(#f95252,#dc3232)"></div>
<div class="abs" style="left:7px;top:65px;width:109px;height:33px;background:linear-gradient(#dc3030,#c41414 55%,#b00000)"></div>
<div class="abs" style="left:118px;top:65px;width:108px;height:33px;background:linear-gradient(#dc3030,#c41414 55%,#b00000)"></div>
<div class="abs" style="left:11px;top:65px;width:44px;height:1px;background:#f2a3a3"></div>
<div class="abs" style="left:178px;top:65px;width:44px;height:1px;background:#f2a3a3"></div>
<div class="btn" style="left:6.5px;top:45.3px;width:52px;font-size:12.3px;line-height:14px;transform:scaleX(0.87)">SELL</div>
<div class="btn" style="left:174px;top:45.3px;width:51px;font-size:12.3px;line-height:14px;transform:scaleX(0.9)">BUY</div>
<div class="abs" style="left:60px;top:41px;width:112px;height:21px;background:#fff;border:1px solid #b4b4b4;box-sizing:border-box"></div>
<div class="abs" style="left:62px;top:43px;width:19px;height:18px;background:linear-gradient(#e6e6e6,#e0e0e0 45%,#cdcdcd 50%,#c8c8c8);border-right:1px solid #b4b4b4"></div>
<div class="abs" style="left:151px;top:43px;width:19px;height:18px;background:linear-gradient(#e6e6e6,#e0e0e0 45%,#cdcdcd 50%,#c8c8c8);border-left:1px solid #b4b4b4"></div>
<svg class="abs" style="left:62px;top:43px" width="110" height="18"><path d="M7 7.5h5l-2.5 3z" fill="#3f5fbf"/><path d="M96 10.5h5l-2.5 -3z" fill="#3f5fbf"/></svg>
<div class="abs" style="left:90px;top:45px;width:57px;text-align:right;font-size:12px;line-height:14px;color:#101028">3.00</div>
<div class="abs" style="left:27.1px;top:81.7px;font-size:12px;line-height:14px;font-weight:bold;color:#fff">0.73</div>
<div class="abs" style="left:54.3px;top:63.2px;font-size:32px;line-height:36px;color:#fff;letter-spacing:-0.8px">63</div>
<div class="abs" style="left:94px;top:65.5px;font-size:12px;line-height:14px;color:#fff;font-weight:bold">4</div>
<div class="abs" style="left:137.1px;top:81.7px;font-size:12px;line-height:14px;font-weight:bold;color:#fff">0.73</div>
<div class="abs" style="left:164.8px;top:63.2px;font-size:32px;line-height:36px;color:#fff;letter-spacing:-0.8px">64</div>
<div class="abs" style="left:204.8px;top:65.5px;font-size:12px;line-height:14px;color:#fff;font-weight:bold">7</div>
<!-- bottom tabs -->
<div class="abs" style="left:0;top:677px;width:1207px;height:1px;background:#e6e6e6"></div>
<div class="abs" style="left:0;top:678px;width:1207px;height:1px;background:#f0f0f0"></div>
<div class="abs" style="left:0;top:679px;width:98px;height:1px;background:#000"></div>
<div class="abs" style="left:200px;top:679px;width:1007px;height:1px;background:#000"></div>
<div class="abs" style="left:0;top:680px;width:1px;height:18px;background:#a0a0a0"></div>
<div class="abs" style="left:97px;top:678px;width:104px;height:20px;background:#fff;border:1px solid #000;border-top:none;box-sizing:border-box"></div>
<div class="abs" style="left:98px;top:677px;width:102px;height:2px;background:#fafafa"></div>
<div class="abs" style="left:0;top:699px;width:1207px;height:1px;background:#f5f5f5"></div>
<div class="abs" style="left:0;top:700px;width:1207px;height:3px;background:#fbfbfb"></div>
<div class="abs" style="left:0;top:703px;width:1207px;height:1px;background:#c3c3c3"></div>
<div class="abs" style="left:0;top:704px;width:1207px;height:1px;background:#ececec"></div>
<div class="tabs">
<span style="left:17.5px">EURUSD,H4</span>
<span style="left:108px;color:#000">AUDUSD,Daily</span>
<span style="left:211px">USDCHF,H4</span><i style="left:289px"></i>
<span style="left:300px">USDCAD,Daily</span><i style="left:393px"></i>
<span style="left:403px">USDCNH,Daily</span><i style="left:497px"></i>
<span style="left:508.5px">UKOil,H1</span><i style="left:573px"></i>
<span style="left:583px">DJ30,H1</span><i style="left:641px"></i>
<span style="left:653px">USDX,H1</span><i style="left:717px"></i>
<span style="left:727px">XAUUSD,H4</span><i style="left:809px"></i>
<span style="left:821px">GBPUSD,H1</span><i style="left:900px"></i>
</div>
<svg class="abs" style="left:1177px;top:683px" width="30" height="12"><path d="M8.2 1.8v6.4l-3.6-3.2z" fill="#8a8a8a"/><path d="M23.6 1.8v6.4l3.6-3.2z" fill="#8a8a8a"/></svg>
</body></html>
